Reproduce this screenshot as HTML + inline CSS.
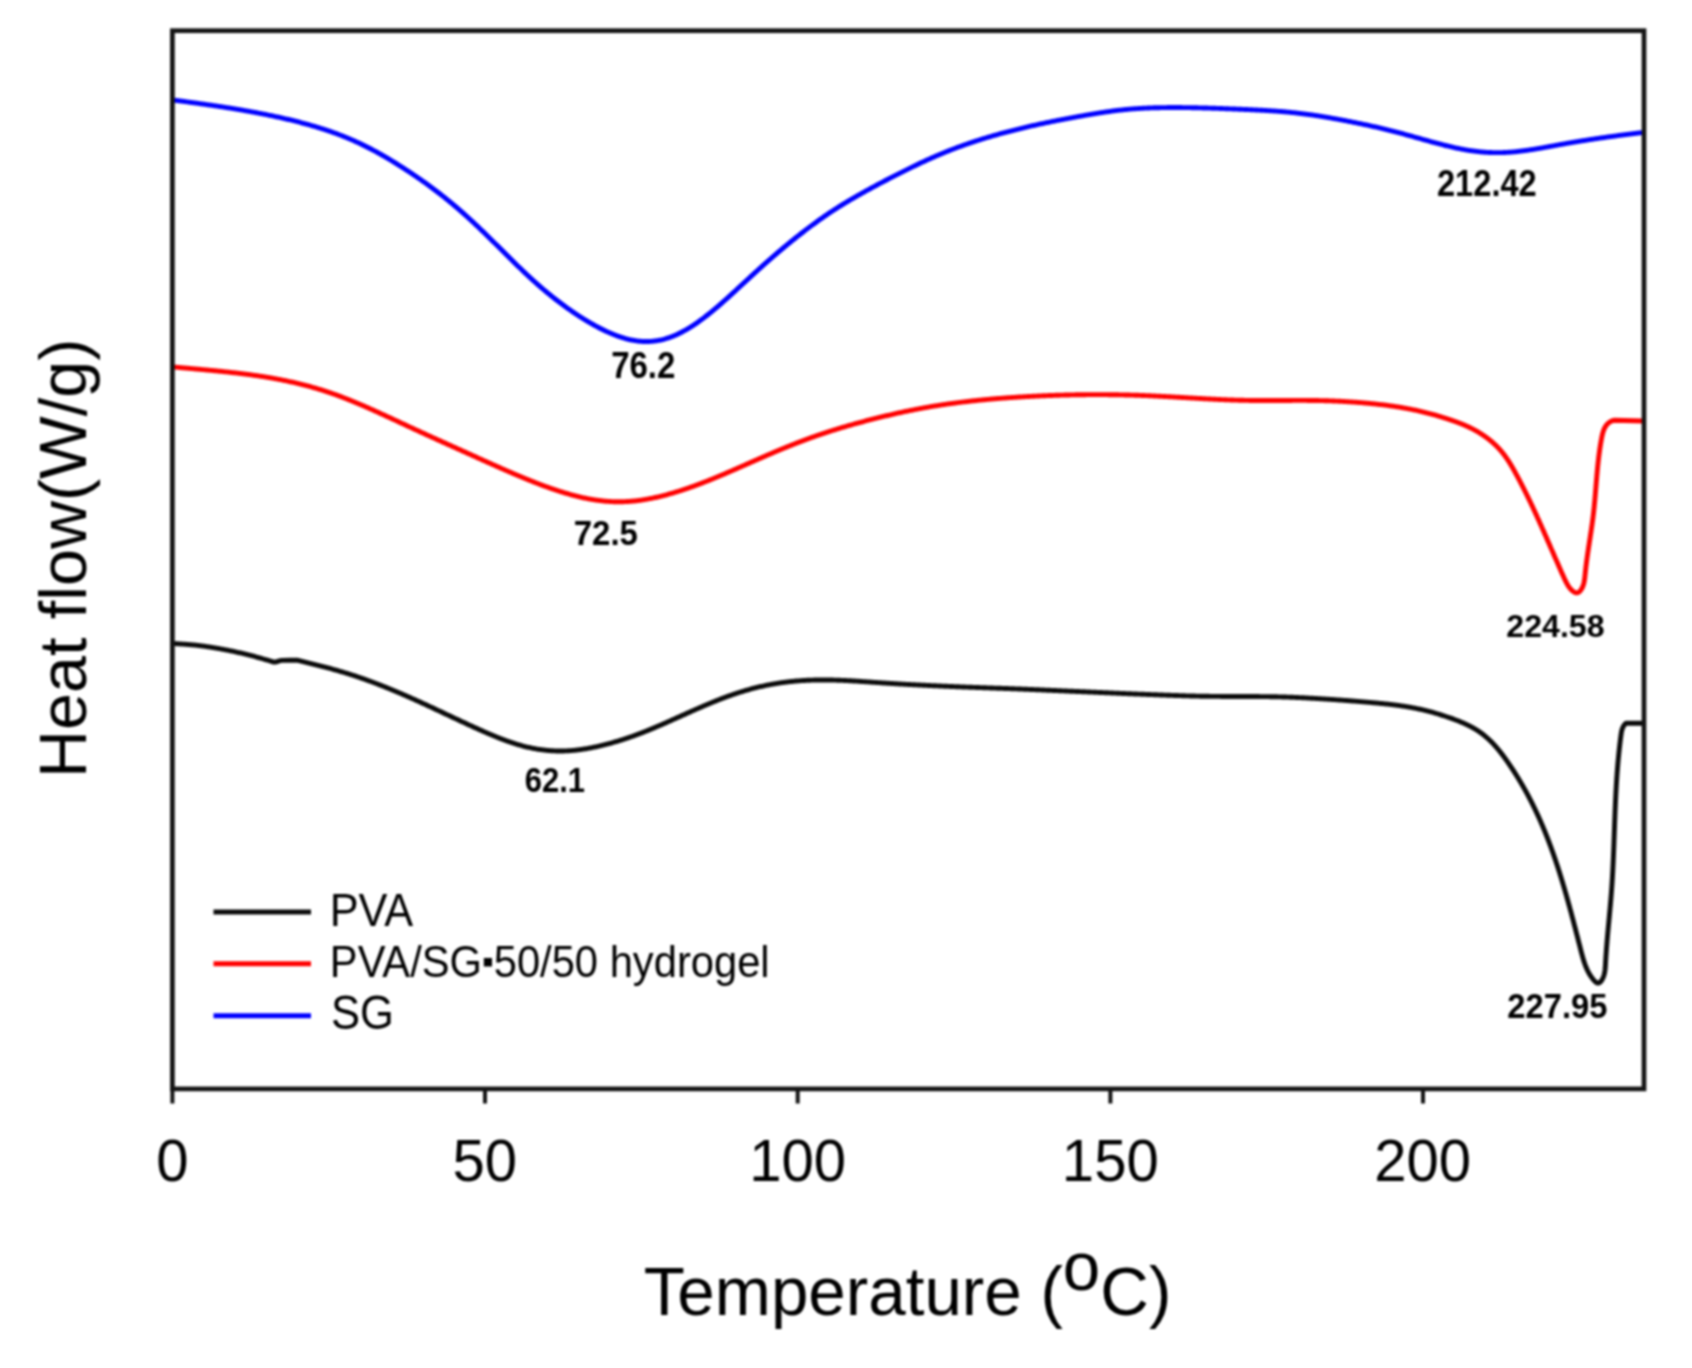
<!DOCTYPE html>
<html lang="en"><head><meta charset="utf-8"><title>DSC thermograms</title>
<style>
html,body{margin:0;padding:0;background:#fff;width:1692px;height:1368px;overflow:hidden}
svg{display:block;filter:blur(1px)}
</style></head><body>
<svg width="1692" height="1368" viewBox="0 0 1692 1368"><rect x="0" y="0" width="1692" height="1368" fill="#ffffff"/>
<g fill="none" stroke-linejoin="round" stroke-linecap="butt" stroke-width="4.9">
<path d="M171.50,99.82 L172.50,99.95 L173.50,100.09 L174.50,100.22 L175.50,100.35 L176.50,100.48 L177.50,100.61 L178.50,100.75 L179.50,100.88 L180.50,101.01 L181.50,101.14 L182.50,101.28 L183.50,101.41 L184.50,101.54 L185.50,101.67 L186.50,101.81 L187.50,101.94 L188.50,102.08 L189.50,102.21 L190.50,102.35 L191.50,102.48 L192.50,102.62 L193.50,102.75 L194.50,102.89 L195.50,103.02 L196.50,103.16 L197.50,103.30 L198.50,103.44 L199.50,103.57 L200.50,103.71 L201.50,103.85 L202.50,103.99 L203.50,104.13 L204.50,104.27 L205.50,104.42 L206.50,104.56 L207.50,104.70 L208.50,104.84 L209.50,104.99 L210.50,105.13 L211.50,105.28 L212.50,105.42 L213.50,105.57 L214.50,105.72 L215.50,105.87 L216.50,106.02 L217.50,106.17 L218.50,106.32 L219.50,106.47 L220.50,106.62 L221.50,106.77 L222.50,106.93 L223.50,107.08 L224.50,107.24 L225.50,107.39 L226.50,107.55 L227.50,107.71 L228.50,107.87 L229.50,108.03 L230.50,108.19 L231.50,108.35 L232.50,108.51 L233.50,108.68 L234.50,108.84 L235.50,109.01 L236.50,109.17 L237.50,109.34 L238.50,109.51 L239.50,109.68 L240.50,109.85 L241.50,110.02 L242.50,110.19 L243.50,110.36 L244.50,110.54 L245.50,110.71 L246.50,110.89 L247.50,111.07 L248.50,111.25 L249.50,111.43 L250.50,111.61 L251.50,111.79 L252.50,111.98 L253.50,112.16 L254.50,112.35 L255.50,112.53 L256.50,112.72 L257.50,112.91 L258.50,113.10 L259.50,113.29 L260.50,113.49 L261.50,113.68 L262.50,113.88 L263.50,114.08 L264.50,114.27 L265.50,114.47 L266.50,114.68 L267.50,114.88 L268.50,115.08 L269.50,115.29 L270.50,115.49 L271.50,115.70 L272.50,115.91 L273.50,116.13 L274.50,116.34 L275.50,116.55 L276.50,116.77 L277.50,116.99 L278.50,117.21 L279.50,117.43 L280.50,117.65 L281.50,117.88 L282.50,118.10 L283.50,118.33 L284.50,118.56 L285.50,118.79 L286.50,119.03 L287.50,119.26 L288.50,119.50 L289.50,119.74 L290.50,119.98 L291.50,120.22 L292.50,120.47 L293.50,120.72 L294.50,120.97 L295.50,121.22 L296.50,121.47 L297.50,121.73 L298.50,121.98 L299.50,122.24 L300.50,122.50 L301.50,122.77 L302.50,123.03 L303.50,123.30 L304.50,123.57 L305.50,123.85 L306.50,124.12 L307.50,124.40 L308.50,124.68 L309.50,124.96 L310.50,125.24 L311.50,125.53 L312.50,125.82 L313.50,126.11 L314.50,126.41 L315.50,126.70 L316.50,127.00 L317.50,127.31 L318.50,127.61 L319.50,127.92 L320.50,128.23 L321.50,128.55 L322.50,128.87 L323.50,129.19 L324.50,129.51 L325.50,129.84 L326.50,130.17 L327.50,130.50 L328.50,130.84 L329.50,131.18 L330.50,131.53 L331.50,131.87 L332.50,132.23 L333.50,132.58 L334.50,132.94 L335.50,133.30 L336.50,133.67 L337.50,134.04 L338.50,134.42 L339.50,134.80 L340.50,135.18 L341.50,135.57 L342.50,135.96 L343.50,136.36 L344.50,136.76 L345.50,137.17 L346.50,137.58 L347.50,137.99 L348.50,138.41 L349.50,138.83 L350.50,139.26 L351.50,139.69 L352.50,140.13 L353.50,140.57 L354.50,141.01 L355.50,141.46 L356.50,141.92 L357.50,142.38 L358.50,142.84 L359.50,143.31 L360.50,143.78 L361.50,144.25 L362.50,144.74 L363.50,145.22 L364.50,145.71 L365.50,146.21 L366.50,146.70 L367.50,147.21 L368.50,147.72 L369.50,148.23 L370.50,148.75 L371.50,149.27 L372.50,149.80 L373.50,150.33 L374.50,150.86 L375.50,151.41 L376.50,151.95 L377.50,152.50 L378.50,153.05 L379.50,153.61 L380.50,154.18 L381.50,154.74 L382.50,155.31 L383.50,155.89 L384.50,156.47 L385.50,157.05 L386.50,157.64 L387.50,158.23 L388.50,158.82 L389.50,159.42 L390.50,160.02 L391.50,160.63 L392.50,161.23 L393.50,161.85 L394.50,162.46 L395.50,163.08 L396.50,163.70 L397.50,164.33 L398.50,164.96 L399.50,165.59 L400.50,166.22 L401.50,166.86 L402.50,167.50 L403.50,168.14 L404.50,168.79 L405.50,169.44 L406.50,170.09 L407.50,170.75 L408.50,171.40 L409.50,172.06 L410.50,172.73 L411.50,173.39 L412.50,174.06 L413.50,174.73 L414.50,175.41 L415.50,176.09 L416.50,176.77 L417.50,177.46 L418.50,178.15 L419.50,178.84 L420.50,179.54 L421.50,180.24 L422.50,180.94 L423.50,181.65 L424.50,182.36 L425.50,183.07 L426.50,183.79 L427.50,184.51 L428.50,185.24 L429.50,185.97 L430.50,186.70 L431.50,187.44 L432.50,188.19 L433.50,188.93 L434.50,189.68 L435.50,190.44 L436.50,191.20 L437.50,191.97 L438.50,192.73 L439.50,193.51 L440.50,194.29 L441.50,195.07 L442.50,195.86 L443.50,196.65 L444.50,197.44 L445.50,198.24 L446.50,199.05 L447.50,199.86 L448.50,200.67 L449.50,201.49 L450.50,202.32 L451.50,203.14 L452.50,203.98 L453.50,204.81 L454.50,205.66 L455.50,206.50 L456.50,207.35 L457.50,208.21 L458.50,209.07 L459.50,209.94 L460.50,210.81 L461.50,211.68 L462.50,212.56 L463.50,213.45 L464.50,214.34 L465.50,215.23 L466.50,216.13 L467.50,217.03 L468.50,217.94 L469.50,218.86 L470.50,219.78 L471.50,220.70 L472.50,221.63 L473.50,222.56 L474.50,223.49 L475.50,224.43 L476.50,225.38 L477.50,226.33 L478.50,227.28 L479.50,228.23 L480.50,229.19 L481.50,230.15 L482.50,231.12 L483.50,232.08 L484.50,233.05 L485.50,234.03 L486.50,235.00 L487.50,235.98 L488.50,236.96 L489.50,237.94 L490.50,238.92 L491.50,239.91 L492.50,240.90 L493.50,241.89 L494.50,242.88 L495.50,243.87 L496.50,244.86 L497.50,245.85 L498.50,246.85 L499.50,247.84 L500.50,248.84 L501.50,249.83 L502.50,250.83 L503.50,251.82 L504.50,252.82 L505.50,253.82 L506.50,254.81 L507.50,255.81 L508.50,256.80 L509.50,257.79 L510.50,258.78 L511.50,259.77 L512.50,260.76 L513.50,261.74 L514.50,262.73 L515.50,263.71 L516.50,264.69 L517.50,265.66 L518.50,266.64 L519.50,267.61 L520.50,268.57 L521.50,269.54 L522.50,270.49 L523.50,271.45 L524.50,272.40 L525.50,273.35 L526.50,274.29 L527.50,275.23 L528.50,276.16 L529.50,277.09 L530.50,278.02 L531.50,278.93 L532.50,279.85 L533.50,280.75 L534.50,281.65 L535.50,282.55 L536.50,283.44 L537.50,284.32 L538.50,285.20 L539.50,286.07 L540.50,286.93 L541.50,287.79 L542.50,288.65 L543.50,289.50 L544.50,290.34 L545.50,291.18 L546.50,292.01 L547.50,292.83 L548.50,293.65 L549.50,294.47 L550.50,295.27 L551.50,296.08 L552.50,296.88 L553.50,297.67 L554.50,298.45 L555.50,299.23 L556.50,300.01 L557.50,300.78 L558.50,301.54 L559.50,302.30 L560.50,303.05 L561.50,303.80 L562.50,304.54 L563.50,305.28 L564.50,306.01 L565.50,306.74 L566.50,307.46 L567.50,308.17 L568.50,308.88 L569.50,309.59 L570.50,310.29 L571.50,310.98 L572.50,311.67 L573.50,312.35 L574.50,313.03 L575.50,313.70 L576.50,314.36 L577.50,315.02 L578.50,315.68 L579.50,316.32 L580.50,316.97 L581.50,317.60 L582.50,318.23 L583.50,318.86 L584.50,319.48 L585.50,320.09 L586.50,320.70 L587.50,321.30 L588.50,321.89 L589.50,322.48 L590.50,323.06 L591.50,323.63 L592.50,324.20 L593.50,324.76 L594.50,325.32 L595.50,325.86 L596.50,326.40 L597.50,326.94 L598.50,327.46 L599.50,327.98 L600.50,328.50 L601.50,329.00 L602.50,329.50 L603.50,329.99 L604.50,330.47 L605.50,330.94 L606.50,331.41 L607.50,331.87 L608.50,332.32 L609.50,332.76 L610.50,333.19 L611.50,333.61 L612.50,334.03 L613.50,334.43 L614.50,334.83 L615.50,335.22 L616.50,335.59 L617.50,335.96 L618.50,336.32 L619.50,336.67 L620.50,337.01 L621.50,337.33 L622.50,337.65 L623.50,337.96 L624.50,338.25 L625.50,338.53 L626.50,338.81 L627.50,339.07 L628.50,339.31 L629.50,339.55 L630.50,339.77 L631.50,339.98 L632.50,340.18 L633.50,340.37 L634.50,340.54 L635.50,340.70 L636.50,340.85 L637.50,340.98 L638.50,341.10 L639.50,341.21 L640.50,341.30 L641.50,341.38 L642.50,341.44 L643.50,341.49 L644.50,341.52 L645.50,341.54 L646.50,341.55 L647.50,341.54 L648.50,341.51 L649.50,341.47 L650.50,341.42 L651.50,341.35 L652.50,341.26 L653.50,341.16 L654.50,341.05 L655.50,340.92 L656.50,340.77 L657.50,340.61 L658.50,340.43 L659.50,340.24 L660.50,340.04 L661.50,339.81 L662.50,339.58 L663.50,339.32 L664.50,339.06 L665.50,338.77 L666.50,338.47 L667.50,338.16 L668.50,337.83 L669.50,337.49 L670.50,337.13 L671.50,336.76 L672.50,336.38 L673.50,335.97 L674.50,335.56 L675.50,335.13 L676.50,334.69 L677.50,334.23 L678.50,333.76 L679.50,333.28 L680.50,332.78 L681.50,332.27 L682.50,331.75 L683.50,331.21 L684.50,330.66 L685.50,330.10 L686.50,329.53 L687.50,328.94 L688.50,328.35 L689.50,327.74 L690.50,327.12 L691.50,326.48 L692.50,325.84 L693.50,325.19 L694.50,324.52 L695.50,323.85 L696.50,323.16 L697.50,322.46 L698.50,321.76 L699.50,321.04 L700.50,320.32 L701.50,319.59 L702.50,318.84 L703.50,318.09 L704.50,317.33 L705.50,316.56 L706.50,315.79 L707.50,315.00 L708.50,314.21 L709.50,313.41 L710.50,312.61 L711.50,311.79 L712.50,310.97 L713.50,310.14 L714.50,309.31 L715.50,308.47 L716.50,307.62 L717.50,306.77 L718.50,305.91 L719.50,305.05 L720.50,304.18 L721.50,303.31 L722.50,302.43 L723.50,301.54 L724.50,300.66 L725.50,299.77 L726.50,298.87 L727.50,297.97 L728.50,297.07 L729.50,296.16 L730.50,295.25 L731.50,294.34 L732.50,293.43 L733.50,292.51 L734.50,291.60 L735.50,290.68 L736.50,289.76 L737.50,288.83 L738.50,287.91 L739.50,286.99 L740.50,286.06 L741.50,285.14 L742.50,284.21 L743.50,283.29 L744.50,282.36 L745.50,281.44 L746.50,280.52 L747.50,279.60 L748.50,278.67 L749.50,277.75 L750.50,276.83 L751.50,275.92 L752.50,275.00 L753.50,274.08 L754.50,273.17 L755.50,272.26 L756.50,271.35 L757.50,270.44 L758.50,269.54 L759.50,268.63 L760.50,267.73 L761.50,266.83 L762.50,265.94 L763.50,265.04 L764.50,264.15 L765.50,263.26 L766.50,262.38 L767.50,261.49 L768.50,260.61 L769.50,259.73 L770.50,258.86 L771.50,257.99 L772.50,257.12 L773.50,256.25 L774.50,255.39 L775.50,254.53 L776.50,253.67 L777.50,252.82 L778.50,251.97 L779.50,251.12 L780.50,250.27 L781.50,249.43 L782.50,248.59 L783.50,247.75 L784.50,246.92 L785.50,246.09 L786.50,245.27 L787.50,244.44 L788.50,243.62 L789.50,242.80 L790.50,241.99 L791.50,241.18 L792.50,240.37 L793.50,239.57 L794.50,238.76 L795.50,237.97 L796.50,237.17 L797.50,236.38 L798.50,235.59 L799.50,234.80 L800.50,234.02 L801.50,233.24 L802.50,232.47 L803.50,231.70 L804.50,230.93 L805.50,230.16 L806.50,229.40 L807.50,228.64 L808.50,227.88 L809.50,227.13 L810.50,226.38 L811.50,225.64 L812.50,224.90 L813.50,224.16 L814.50,223.43 L815.50,222.70 L816.50,221.97 L817.50,221.25 L818.50,220.53 L819.50,219.82 L820.50,219.11 L821.50,218.40 L822.50,217.70 L823.50,217.00 L824.50,216.31 L825.50,215.62 L826.50,214.94 L827.50,214.26 L828.50,213.58 L829.50,212.91 L830.50,212.24 L831.50,211.58 L832.50,210.92 L833.50,210.27 L834.50,209.62 L835.50,208.97 L836.50,208.33 L837.50,207.70 L838.50,207.06 L839.50,206.43 L840.50,205.81 L841.50,205.19 L842.50,204.57 L843.50,203.96 L844.50,203.35 L845.50,202.74 L846.50,202.14 L847.50,201.54 L848.50,200.94 L849.50,200.35 L850.50,199.76 L851.50,199.18 L852.50,198.59 L853.50,198.01 L854.50,197.43 L855.50,196.86 L856.50,196.28 L857.50,195.71 L858.50,195.15 L859.50,194.58 L860.50,194.02 L861.50,193.46 L862.50,192.90 L863.50,192.34 L864.50,191.79 L865.50,191.23 L866.50,190.68 L867.50,190.13 L868.50,189.59 L869.50,189.04 L870.50,188.50 L871.50,187.95 L872.50,187.41 L873.50,186.87 L874.50,186.34 L875.50,185.80 L876.50,185.26 L877.50,184.73 L878.50,184.20 L879.50,183.67 L880.50,183.14 L881.50,182.61 L882.50,182.08 L883.50,181.56 L884.50,181.03 L885.50,180.51 L886.50,179.99 L887.50,179.47 L888.50,178.95 L889.50,178.43 L890.50,177.92 L891.50,177.40 L892.50,176.89 L893.50,176.38 L894.50,175.86 L895.50,175.36 L896.50,174.85 L897.50,174.34 L898.50,173.83 L899.50,173.33 L900.50,172.82 L901.50,172.32 L902.50,171.82 L903.50,171.32 L904.50,170.82 L905.50,170.33 L906.50,169.83 L907.50,169.34 L908.50,168.84 L909.50,168.35 L910.50,167.86 L911.50,167.37 L912.50,166.89 L913.50,166.40 L914.50,165.92 L915.50,165.44 L916.50,164.96 L917.50,164.48 L918.50,164.01 L919.50,163.53 L920.50,163.06 L921.50,162.59 L922.50,162.13 L923.50,161.66 L924.50,161.20 L925.50,160.74 L926.50,160.28 L927.50,159.83 L928.50,159.37 L929.50,158.92 L930.50,158.47 L931.50,158.03 L932.50,157.59 L933.50,157.15 L934.50,156.71 L935.50,156.27 L936.50,155.84 L937.50,155.41 L938.50,154.99 L939.50,154.56 L940.50,154.14 L941.50,153.72 L942.50,153.31 L943.50,152.89 L944.50,152.49 L945.50,152.08 L946.50,151.67 L947.50,151.27 L948.50,150.87 L949.50,150.48 L950.50,150.09 L951.50,149.70 L952.50,149.31 L953.50,148.93 L954.50,148.55 L955.50,148.17 L956.50,147.79 L957.50,147.42 L958.50,147.05 L959.50,146.68 L960.50,146.32 L961.50,145.96 L962.50,145.60 L963.50,145.24 L964.50,144.89 L965.50,144.54 L966.50,144.19 L967.50,143.84 L968.50,143.50 L969.50,143.16 L970.50,142.82 L971.50,142.49 L972.50,142.16 L973.50,141.82 L974.50,141.50 L975.50,141.17 L976.50,140.85 L977.50,140.53 L978.50,140.21 L979.50,139.89 L980.50,139.58 L981.50,139.26 L982.50,138.95 L983.50,138.64 L984.50,138.34 L985.50,138.03 L986.50,137.73 L987.50,137.43 L988.50,137.13 L989.50,136.84 L990.50,136.54 L991.50,136.25 L992.50,135.96 L993.50,135.67 L994.50,135.38 L995.50,135.10 L996.50,134.82 L997.50,134.53 L998.50,134.25 L999.50,133.98 L1000.50,133.70 L1001.50,133.43 L1002.50,133.15 L1003.50,132.88 L1004.50,132.61 L1005.50,132.34 L1006.50,132.08 L1007.50,131.81 L1008.50,131.55 L1009.50,131.29 L1010.50,131.03 L1011.50,130.77 L1012.50,130.52 L1013.50,130.26 L1014.50,130.01 L1015.50,129.76 L1016.50,129.51 L1017.50,129.26 L1018.50,129.02 L1019.50,128.77 L1020.50,128.53 L1021.50,128.29 L1022.50,128.05 L1023.50,127.81 L1024.50,127.57 L1025.50,127.34 L1026.50,127.10 L1027.50,126.87 L1028.50,126.64 L1029.50,126.41 L1030.50,126.18 L1031.50,125.96 L1032.50,125.73 L1033.50,125.51 L1034.50,125.28 L1035.50,125.06 L1036.50,124.84 L1037.50,124.62 L1038.50,124.40 L1039.50,124.19 L1040.50,123.97 L1041.50,123.76 L1042.50,123.54 L1043.50,123.33 L1044.50,123.12 L1045.50,122.91 L1046.50,122.70 L1047.50,122.49 L1048.50,122.29 L1049.50,122.08 L1050.50,121.88 L1051.50,121.67 L1052.50,121.47 L1053.50,121.27 L1054.50,121.07 L1055.50,120.87 L1056.50,120.67 L1057.50,120.47 L1058.50,120.28 L1059.50,120.08 L1060.50,119.88 L1061.50,119.69 L1062.50,119.50 L1063.50,119.30 L1064.50,119.11 L1065.50,118.92 L1066.50,118.73 L1067.50,118.54 L1068.50,118.35 L1069.50,118.16 L1070.50,117.98 L1071.50,117.79 L1072.50,117.61 L1073.50,117.42 L1074.50,117.24 L1075.50,117.05 L1076.50,116.87 L1077.50,116.69 L1078.50,116.51 L1079.50,116.33 L1080.50,116.15 L1081.50,115.97 L1082.50,115.79 L1083.50,115.61 L1084.50,115.44 L1085.50,115.26 L1086.50,115.09 L1087.50,114.91 L1088.50,114.74 L1089.50,114.57 L1090.50,114.40 L1091.50,114.23 L1092.50,114.06 L1093.50,113.89 L1094.50,113.73 L1095.50,113.57 L1096.50,113.40 L1097.50,113.24 L1098.50,113.08 L1099.50,112.93 L1100.50,112.77 L1101.50,112.61 L1102.50,112.46 L1103.50,112.31 L1104.50,112.16 L1105.50,112.01 L1106.50,111.87 L1107.50,111.73 L1108.50,111.59 L1109.50,111.45 L1110.50,111.31 L1111.50,111.17 L1112.50,111.04 L1113.50,110.91 L1114.50,110.78 L1115.50,110.66 L1116.50,110.54 L1117.50,110.42 L1118.50,110.30 L1119.50,110.18 L1120.50,110.07 L1121.50,109.96 L1122.50,109.86 L1123.50,109.75 L1124.50,109.65 L1125.50,109.55 L1126.50,109.45 L1127.50,109.36 L1128.50,109.27 L1129.50,109.18 L1130.50,109.09 L1131.50,109.01 L1132.50,108.93 L1133.50,108.85 L1134.50,108.78 L1135.50,108.71 L1136.50,108.64 L1137.50,108.57 L1138.50,108.51 L1139.50,108.44 L1140.50,108.38 L1141.50,108.33 L1142.50,108.27 L1143.50,108.22 L1144.50,108.17 L1145.50,108.12 L1146.50,108.08 L1147.50,108.04 L1148.50,108.00 L1149.50,107.96 L1150.50,107.92 L1151.50,107.89 L1152.50,107.85 L1153.50,107.82 L1154.50,107.79 L1155.50,107.77 L1156.50,107.74 L1157.50,107.72 L1158.50,107.70 L1159.50,107.68 L1160.50,107.66 L1161.50,107.64 L1162.50,107.63 L1163.50,107.61 L1164.50,107.60 L1165.50,107.59 L1166.50,107.58 L1167.50,107.57 L1168.50,107.56 L1169.50,107.56 L1170.50,107.55 L1171.50,107.55 L1172.50,107.55 L1173.50,107.54 L1174.50,107.54 L1175.50,107.54 L1176.50,107.55 L1177.50,107.55 L1178.50,107.55 L1179.50,107.56 L1180.50,107.56 L1181.50,107.57 L1182.50,107.58 L1183.50,107.59 L1184.50,107.60 L1185.50,107.61 L1186.50,107.62 L1187.50,107.63 L1188.50,107.64 L1189.50,107.66 L1190.50,107.67 L1191.50,107.69 L1192.50,107.71 L1193.50,107.73 L1194.50,107.75 L1195.50,107.76 L1196.50,107.79 L1197.50,107.81 L1198.50,107.83 L1199.50,107.85 L1200.50,107.88 L1201.50,107.90 L1202.50,107.93 L1203.50,107.95 L1204.50,107.98 L1205.50,108.01 L1206.50,108.03 L1207.50,108.06 L1208.50,108.09 L1209.50,108.12 L1210.50,108.15 L1211.50,108.19 L1212.50,108.22 L1213.50,108.25 L1214.50,108.28 L1215.50,108.32 L1216.50,108.35 L1217.50,108.39 L1218.50,108.42 L1219.50,108.46 L1220.50,108.49 L1221.50,108.53 L1222.50,108.57 L1223.50,108.60 L1224.50,108.64 L1225.50,108.68 L1226.50,108.72 L1227.50,108.76 L1228.50,108.79 L1229.50,108.83 L1230.50,108.87 L1231.50,108.91 L1232.50,108.95 L1233.50,108.99 L1234.50,109.03 L1235.50,109.07 L1236.50,109.11 L1237.50,109.15 L1238.50,109.19 L1239.50,109.23 L1240.50,109.27 L1241.50,109.31 L1242.50,109.35 L1243.50,109.40 L1244.50,109.44 L1245.50,109.48 L1246.50,109.53 L1247.50,109.57 L1248.50,109.61 L1249.50,109.66 L1250.50,109.70 L1251.50,109.75 L1252.50,109.80 L1253.50,109.84 L1254.50,109.89 L1255.50,109.94 L1256.50,109.99 L1257.50,110.04 L1258.50,110.09 L1259.50,110.14 L1260.50,110.19 L1261.50,110.25 L1262.50,110.30 L1263.50,110.36 L1264.50,110.41 L1265.50,110.47 L1266.50,110.53 L1267.50,110.59 L1268.50,110.65 L1269.50,110.71 L1270.50,110.77 L1271.50,110.83 L1272.50,110.90 L1273.50,110.97 L1274.50,111.04 L1275.50,111.11 L1276.50,111.18 L1277.50,111.25 L1278.50,111.33 L1279.50,111.40 L1280.50,111.48 L1281.50,111.56 L1282.50,111.64 L1283.50,111.73 L1284.50,111.81 L1285.50,111.90 L1286.50,111.99 L1287.50,112.08 L1288.50,112.17 L1289.50,112.27 L1290.50,112.37 L1291.50,112.47 L1292.50,112.57 L1293.50,112.67 L1294.50,112.78 L1295.50,112.89 L1296.50,113.00 L1297.50,113.11 L1298.50,113.22 L1299.50,113.34 L1300.50,113.46 L1301.50,113.58 L1302.50,113.70 L1303.50,113.82 L1304.50,113.95 L1305.50,114.08 L1306.50,114.21 L1307.50,114.35 L1308.50,114.48 L1309.50,114.62 L1310.50,114.76 L1311.50,114.90 L1312.50,115.04 L1313.50,115.19 L1314.50,115.34 L1315.50,115.49 L1316.50,115.64 L1317.50,115.79 L1318.50,115.95 L1319.50,116.11 L1320.50,116.26 L1321.50,116.43 L1322.50,116.59 L1323.50,116.75 L1324.50,116.92 L1325.50,117.09 L1326.50,117.25 L1327.50,117.43 L1328.50,117.60 L1329.50,117.77 L1330.50,117.95 L1331.50,118.12 L1332.50,118.30 L1333.50,118.48 L1334.50,118.66 L1335.50,118.84 L1336.50,119.02 L1337.50,119.21 L1338.50,119.39 L1339.50,119.58 L1340.50,119.76 L1341.50,119.95 L1342.50,120.14 L1343.50,120.33 L1344.50,120.52 L1345.50,120.71 L1346.50,120.91 L1347.50,121.10 L1348.50,121.29 L1349.50,121.49 L1350.50,121.69 L1351.50,121.88 L1352.50,122.08 L1353.50,122.28 L1354.50,122.48 L1355.50,122.69 L1356.50,122.89 L1357.50,123.09 L1358.50,123.30 L1359.50,123.50 L1360.50,123.71 L1361.50,123.92 L1362.50,124.13 L1363.50,124.34 L1364.50,124.55 L1365.50,124.76 L1366.50,124.98 L1367.50,125.19 L1368.50,125.41 L1369.50,125.63 L1370.50,125.85 L1371.50,126.07 L1372.50,126.29 L1373.50,126.52 L1374.50,126.74 L1375.50,126.97 L1376.50,127.20 L1377.50,127.43 L1378.50,127.66 L1379.50,127.89 L1380.50,128.13 L1381.50,128.36 L1382.50,128.60 L1383.50,128.84 L1384.50,129.08 L1385.50,129.33 L1386.50,129.57 L1387.50,129.82 L1388.50,130.07 L1389.50,130.32 L1390.50,130.57 L1391.50,130.82 L1392.50,131.08 L1393.50,131.33 L1394.50,131.59 L1395.50,131.85 L1396.50,132.11 L1397.50,132.37 L1398.50,132.64 L1399.50,132.90 L1400.50,133.17 L1401.50,133.44 L1402.50,133.71 L1403.50,133.98 L1404.50,134.25 L1405.50,134.52 L1406.50,134.80 L1407.50,135.07 L1408.50,135.35 L1409.50,135.62 L1410.50,135.90 L1411.50,136.18 L1412.50,136.46 L1413.50,136.74 L1414.50,137.02 L1415.50,137.30 L1416.50,137.58 L1417.50,137.87 L1418.50,138.15 L1419.50,138.43 L1420.50,138.71 L1421.50,139.00 L1422.50,139.28 L1423.50,139.56 L1424.50,139.84 L1425.50,140.13 L1426.50,140.41 L1427.50,140.69 L1428.50,140.97 L1429.50,141.25 L1430.50,141.52 L1431.50,141.80 L1432.50,142.08 L1433.50,142.35 L1434.50,142.62 L1435.50,142.89 L1436.50,143.16 L1437.50,143.43 L1438.50,143.70 L1439.50,143.96 L1440.50,144.22 L1441.50,144.48 L1442.50,144.74 L1443.50,145.00 L1444.50,145.25 L1445.50,145.50 L1446.50,145.75 L1447.50,145.99 L1448.50,146.23 L1449.50,146.47 L1450.50,146.71 L1451.50,146.94 L1452.50,147.17 L1453.50,147.39 L1454.50,147.62 L1455.50,147.83 L1456.50,148.05 L1457.50,148.26 L1458.50,148.47 L1459.50,148.67 L1460.50,148.87 L1461.50,149.06 L1462.50,149.25 L1463.50,149.44 L1464.50,149.62 L1465.50,149.80 L1466.50,149.97 L1467.50,150.14 L1468.50,150.30 L1469.50,150.46 L1470.50,150.61 L1471.50,150.76 L1472.50,150.90 L1473.50,151.04 L1474.50,151.17 L1475.50,151.30 L1476.50,151.42 L1477.50,151.54 L1478.50,151.65 L1479.50,151.75 L1480.50,151.85 L1481.50,151.95 L1482.50,152.03 L1483.50,152.12 L1484.50,152.19 L1485.50,152.27 L1486.50,152.33 L1487.50,152.39 L1488.50,152.45 L1489.50,152.49 L1490.50,152.54 L1491.50,152.57 L1492.50,152.60 L1493.50,152.63 L1494.50,152.65 L1495.50,152.66 L1496.50,152.66 L1497.50,152.67 L1498.50,152.66 L1499.50,152.65 L1500.50,152.63 L1501.50,152.61 L1502.50,152.58 L1503.50,152.55 L1504.50,152.51 L1505.50,152.46 L1506.50,152.41 L1507.50,152.36 L1508.50,152.29 L1509.50,152.23 L1510.50,152.15 L1511.50,152.08 L1512.50,151.99 L1513.50,151.91 L1514.50,151.82 L1515.50,151.72 L1516.50,151.62 L1517.50,151.51 L1518.50,151.40 L1519.50,151.29 L1520.50,151.17 L1521.50,151.05 L1522.50,150.92 L1523.50,150.79 L1524.50,150.66 L1525.50,150.52 L1526.50,150.38 L1527.50,150.23 L1528.50,150.09 L1529.50,149.94 L1530.50,149.79 L1531.50,149.63 L1532.50,149.47 L1533.50,149.31 L1534.50,149.15 L1535.50,148.99 L1536.50,148.82 L1537.50,148.65 L1538.50,148.48 L1539.50,148.31 L1540.50,148.14 L1541.50,147.97 L1542.50,147.79 L1543.50,147.61 L1544.50,147.44 L1545.50,147.26 L1546.50,147.08 L1547.50,146.90 L1548.50,146.72 L1549.50,146.53 L1550.50,146.35 L1551.50,146.17 L1552.50,145.99 L1553.50,145.81 L1554.50,145.62 L1555.50,145.44 L1556.50,145.26 L1557.50,145.08 L1558.50,144.90 L1559.50,144.71 L1560.50,144.53 L1561.50,144.35 L1562.50,144.17 L1563.50,143.99 L1564.50,143.82 L1565.50,143.64 L1566.50,143.46 L1567.50,143.29 L1568.50,143.11 L1569.50,142.94 L1570.50,142.77 L1571.50,142.59 L1572.50,142.42 L1573.50,142.25 L1574.50,142.09 L1575.50,141.92 L1576.50,141.75 L1577.50,141.59 L1578.50,141.42 L1579.50,141.26 L1580.50,141.10 L1581.50,140.94 L1582.50,140.78 L1583.50,140.62 L1584.50,140.46 L1585.50,140.30 L1586.50,140.14 L1587.50,139.99 L1588.50,139.83 L1589.50,139.68 L1590.50,139.53 L1591.50,139.38 L1592.50,139.22 L1593.50,139.07 L1594.50,138.92 L1595.50,138.78 L1596.50,138.63 L1597.50,138.48 L1598.50,138.33 L1599.50,138.19 L1600.50,138.04 L1601.50,137.90 L1602.50,137.75 L1603.50,137.61 L1604.50,137.47 L1605.50,137.33 L1606.50,137.19 L1607.50,137.05 L1608.50,136.91 L1609.50,136.77 L1610.50,136.63 L1611.50,136.49 L1612.50,136.35 L1613.50,136.22 L1614.50,136.08 L1615.50,135.95 L1616.50,135.81 L1617.50,135.68 L1618.50,135.55 L1619.50,135.41 L1620.50,135.28 L1621.50,135.15 L1622.50,135.02 L1623.50,134.89 L1624.50,134.76 L1625.50,134.63 L1626.50,134.50 L1627.50,134.37 L1628.50,134.24 L1629.50,134.12 L1630.50,133.99 L1631.50,133.86 L1632.50,133.74 L1633.50,133.61 L1634.50,133.48 L1635.50,133.36 L1636.50,133.23 L1637.50,133.11 L1638.50,132.98 L1639.50,132.85 L1640.50,132.73 L1641.50,132.60 L1642.00,132.54" stroke="#0000ff"/>
<path d="M171.50,366.82 L172.50,366.91 L173.50,366.99 L174.50,367.08 L175.50,367.17 L176.50,367.26 L177.50,367.34 L178.50,367.43 L179.50,367.52 L180.50,367.61 L181.50,367.70 L182.50,367.78 L183.50,367.87 L184.50,367.96 L185.50,368.05 L186.50,368.14 L187.50,368.23 L188.50,368.31 L189.50,368.40 L190.50,368.49 L191.50,368.58 L192.50,368.67 L193.50,368.76 L194.50,368.85 L195.50,368.94 L196.50,369.03 L197.50,369.12 L198.50,369.21 L199.50,369.30 L200.50,369.40 L201.50,369.49 L202.50,369.58 L203.50,369.67 L204.50,369.76 L205.50,369.86 L206.50,369.95 L207.50,370.05 L208.50,370.14 L209.50,370.23 L210.50,370.33 L211.50,370.43 L212.50,370.52 L213.50,370.62 L214.50,370.72 L215.50,370.81 L216.50,370.91 L217.50,371.01 L218.50,371.11 L219.50,371.21 L220.50,371.31 L221.50,371.41 L222.50,371.52 L223.50,371.62 L224.50,371.72 L225.50,371.83 L226.50,371.93 L227.50,372.04 L228.50,372.15 L229.50,372.25 L230.50,372.36 L231.50,372.47 L232.50,372.58 L233.50,372.70 L234.50,372.81 L235.50,372.92 L236.50,373.04 L237.50,373.16 L238.50,373.27 L239.50,373.39 L240.50,373.51 L241.50,373.63 L242.50,373.76 L243.50,373.88 L244.50,374.01 L245.50,374.13 L246.50,374.26 L247.50,374.39 L248.50,374.52 L249.50,374.66 L250.50,374.79 L251.50,374.93 L252.50,375.06 L253.50,375.20 L254.50,375.35 L255.50,375.49 L256.50,375.63 L257.50,375.78 L258.50,375.93 L259.50,376.08 L260.50,376.23 L261.50,376.39 L262.50,376.54 L263.50,376.70 L264.50,376.86 L265.50,377.02 L266.50,377.18 L267.50,377.35 L268.50,377.52 L269.50,377.69 L270.50,377.86 L271.50,378.03 L272.50,378.21 L273.50,378.39 L274.50,378.57 L275.50,378.75 L276.50,378.94 L277.50,379.12 L278.50,379.31 L279.50,379.50 L280.50,379.70 L281.50,379.89 L282.50,380.09 L283.50,380.29 L284.50,380.50 L285.50,380.70 L286.50,380.91 L287.50,381.12 L288.50,381.33 L289.50,381.55 L290.50,381.77 L291.50,381.99 L292.50,382.21 L293.50,382.44 L294.50,382.67 L295.50,382.90 L296.50,383.13 L297.50,383.37 L298.50,383.61 L299.50,383.85 L300.50,384.10 L301.50,384.35 L302.50,384.60 L303.50,384.85 L304.50,385.11 L305.50,385.37 L306.50,385.63 L307.50,385.90 L308.50,386.17 L309.50,386.44 L310.50,386.72 L311.50,387.00 L312.50,387.28 L313.50,387.56 L314.50,387.85 L315.50,388.14 L316.50,388.44 L317.50,388.74 L318.50,389.04 L319.50,389.34 L320.50,389.65 L321.50,389.96 L322.50,390.28 L323.50,390.59 L324.50,390.91 L325.50,391.24 L326.50,391.57 L327.50,391.90 L328.50,392.23 L329.50,392.57 L330.50,392.91 L331.50,393.26 L332.50,393.61 L333.50,393.96 L334.50,394.31 L335.50,394.67 L336.50,395.03 L337.50,395.40 L338.50,395.77 L339.50,396.14 L340.50,396.51 L341.50,396.89 L342.50,397.27 L343.50,397.66 L344.50,398.04 L345.50,398.43 L346.50,398.82 L347.50,399.22 L348.50,399.62 L349.50,400.02 L350.50,400.42 L351.50,400.83 L352.50,401.23 L353.50,401.65 L354.50,402.06 L355.50,402.47 L356.50,402.89 L357.50,403.31 L358.50,403.73 L359.50,404.16 L360.50,404.58 L361.50,405.01 L362.50,405.44 L363.50,405.87 L364.50,406.30 L365.50,406.74 L366.50,407.17 L367.50,407.61 L368.50,408.05 L369.50,408.49 L370.50,408.94 L371.50,409.38 L372.50,409.83 L373.50,410.28 L374.50,410.72 L375.50,411.17 L376.50,411.63 L377.50,412.08 L378.50,412.53 L379.50,412.99 L380.50,413.44 L381.50,413.90 L382.50,414.36 L383.50,414.81 L384.50,415.27 L385.50,415.73 L386.50,416.19 L387.50,416.65 L388.50,417.12 L389.50,417.58 L390.50,418.04 L391.50,418.51 L392.50,418.97 L393.50,419.43 L394.50,419.90 L395.50,420.36 L396.50,420.83 L397.50,421.29 L398.50,421.76 L399.50,422.23 L400.50,422.69 L401.50,423.16 L402.50,423.62 L403.50,424.09 L404.50,424.55 L405.50,425.02 L406.50,425.49 L407.50,425.95 L408.50,426.42 L409.50,426.88 L410.50,427.35 L411.50,427.81 L412.50,428.27 L413.50,428.74 L414.50,429.20 L415.50,429.66 L416.50,430.12 L417.50,430.58 L418.50,431.05 L419.50,431.50 L420.50,431.96 L421.50,432.42 L422.50,432.88 L423.50,433.34 L424.50,433.79 L425.50,434.25 L426.50,434.71 L427.50,435.16 L428.50,435.62 L429.50,436.07 L430.50,436.53 L431.50,436.98 L432.50,437.43 L433.50,437.89 L434.50,438.34 L435.50,438.79 L436.50,439.24 L437.50,439.69 L438.50,440.15 L439.50,440.60 L440.50,441.05 L441.50,441.50 L442.50,441.95 L443.50,442.40 L444.50,442.85 L445.50,443.30 L446.50,443.75 L447.50,444.20 L448.50,444.65 L449.50,445.10 L450.50,445.55 L451.50,446.00 L452.50,446.45 L453.50,446.90 L454.50,447.35 L455.50,447.80 L456.50,448.25 L457.50,448.70 L458.50,449.15 L459.50,449.60 L460.50,450.05 L461.50,450.50 L462.50,450.95 L463.50,451.40 L464.50,451.85 L465.50,452.30 L466.50,452.75 L467.50,453.20 L468.50,453.65 L469.50,454.10 L470.50,454.55 L471.50,455.00 L472.50,455.45 L473.50,455.90 L474.50,456.35 L475.50,456.80 L476.50,457.25 L477.50,457.70 L478.50,458.15 L479.50,458.61 L480.50,459.06 L481.50,459.51 L482.50,459.96 L483.50,460.41 L484.50,460.86 L485.50,461.31 L486.50,461.76 L487.50,462.21 L488.50,462.65 L489.50,463.10 L490.50,463.55 L491.50,464.00 L492.50,464.44 L493.50,464.89 L494.50,465.34 L495.50,465.78 L496.50,466.23 L497.50,466.67 L498.50,467.11 L499.50,467.55 L500.50,468.00 L501.50,468.44 L502.50,468.88 L503.50,469.32 L504.50,469.75 L505.50,470.19 L506.50,470.63 L507.50,471.06 L508.50,471.50 L509.50,471.93 L510.50,472.36 L511.50,472.79 L512.50,473.22 L513.50,473.65 L514.50,474.07 L515.50,474.50 L516.50,474.92 L517.50,475.35 L518.50,475.77 L519.50,476.19 L520.50,476.61 L521.50,477.02 L522.50,477.44 L523.50,477.85 L524.50,478.26 L525.50,478.67 L526.50,479.08 L527.50,479.49 L528.50,479.89 L529.50,480.29 L530.50,480.70 L531.50,481.09 L532.50,481.49 L533.50,481.89 L534.50,482.28 L535.50,482.67 L536.50,483.06 L537.50,483.44 L538.50,483.83 L539.50,484.21 L540.50,484.59 L541.50,484.96 L542.50,485.33 L543.50,485.71 L544.50,486.07 L545.50,486.44 L546.50,486.80 L547.50,487.16 L548.50,487.52 L549.50,487.87 L550.50,488.23 L551.50,488.57 L552.50,488.92 L553.50,489.26 L554.50,489.60 L555.50,489.94 L556.50,490.27 L557.50,490.60 L558.50,490.93 L559.50,491.25 L560.50,491.57 L561.50,491.88 L562.50,492.19 L563.50,492.50 L564.50,492.81 L565.50,493.11 L566.50,493.40 L567.50,493.70 L568.50,493.98 L569.50,494.27 L570.50,494.55 L571.50,494.82 L572.50,495.10 L573.50,495.36 L574.50,495.63 L575.50,495.88 L576.50,496.14 L577.50,496.39 L578.50,496.63 L579.50,496.87 L580.50,497.10 L581.50,497.33 L582.50,497.56 L583.50,497.78 L584.50,497.99 L585.50,498.20 L586.50,498.41 L587.50,498.61 L588.50,498.80 L589.50,498.99 L590.50,499.17 L591.50,499.35 L592.50,499.52 L593.50,499.68 L594.50,499.84 L595.50,499.99 L596.50,500.14 L597.50,500.28 L598.50,500.42 L599.50,500.55 L600.50,500.67 L601.50,500.79 L602.50,500.90 L603.50,501.00 L604.50,501.10 L605.50,501.19 L606.50,501.28 L607.50,501.36 L608.50,501.43 L609.50,501.49 L610.50,501.55 L611.50,501.61 L612.50,501.65 L613.50,501.69 L614.50,501.72 L615.50,501.75 L616.50,501.76 L617.50,501.78 L618.50,501.78 L619.50,501.78 L620.50,501.77 L621.50,501.75 L622.50,501.73 L623.50,501.70 L624.50,501.67 L625.50,501.62 L626.50,501.57 L627.50,501.52 L628.50,501.45 L629.50,501.38 L630.50,501.31 L631.50,501.23 L632.50,501.14 L633.50,501.04 L634.50,500.94 L635.50,500.83 L636.50,500.72 L637.50,500.60 L638.50,500.47 L639.50,500.34 L640.50,500.20 L641.50,500.06 L642.50,499.91 L643.50,499.75 L644.50,499.59 L645.50,499.43 L646.50,499.26 L647.50,499.08 L648.50,498.90 L649.50,498.71 L650.50,498.52 L651.50,498.32 L652.50,498.11 L653.50,497.91 L654.50,497.69 L655.50,497.48 L656.50,497.25 L657.50,497.03 L658.50,496.79 L659.50,496.56 L660.50,496.32 L661.50,496.07 L662.50,495.82 L663.50,495.57 L664.50,495.31 L665.50,495.05 L666.50,494.78 L667.50,494.51 L668.50,494.23 L669.50,493.95 L670.50,493.67 L671.50,493.39 L672.50,493.10 L673.50,492.80 L674.50,492.50 L675.50,492.20 L676.50,491.90 L677.50,491.59 L678.50,491.28 L679.50,490.96 L680.50,490.64 L681.50,490.32 L682.50,489.99 L683.50,489.67 L684.50,489.33 L685.50,489.00 L686.50,488.66 L687.50,488.32 L688.50,487.97 L689.50,487.63 L690.50,487.28 L691.50,486.92 L692.50,486.57 L693.50,486.21 L694.50,485.85 L695.50,485.48 L696.50,485.11 L697.50,484.74 L698.50,484.37 L699.50,484.00 L700.50,483.62 L701.50,483.24 L702.50,482.85 L703.50,482.47 L704.50,482.08 L705.50,481.69 L706.50,481.30 L707.50,480.90 L708.50,480.51 L709.50,480.11 L710.50,479.71 L711.50,479.30 L712.50,478.90 L713.50,478.49 L714.50,478.08 L715.50,477.67 L716.50,477.26 L717.50,476.84 L718.50,476.43 L719.50,476.01 L720.50,475.59 L721.50,475.17 L722.50,474.74 L723.50,474.32 L724.50,473.89 L725.50,473.47 L726.50,473.04 L727.50,472.61 L728.50,472.18 L729.50,471.75 L730.50,471.32 L731.50,470.88 L732.50,470.45 L733.50,470.01 L734.50,469.57 L735.50,469.14 L736.50,468.70 L737.50,468.26 L738.50,467.82 L739.50,467.38 L740.50,466.94 L741.50,466.50 L742.50,466.06 L743.50,465.62 L744.50,465.18 L745.50,464.74 L746.50,464.30 L747.50,463.86 L748.50,463.42 L749.50,462.98 L750.50,462.53 L751.50,462.09 L752.50,461.65 L753.50,461.21 L754.50,460.77 L755.50,460.33 L756.50,459.89 L757.50,459.46 L758.50,459.02 L759.50,458.58 L760.50,458.14 L761.50,457.71 L762.50,457.27 L763.50,456.84 L764.50,456.40 L765.50,455.97 L766.50,455.54 L767.50,455.10 L768.50,454.67 L769.50,454.24 L770.50,453.81 L771.50,453.39 L772.50,452.96 L773.50,452.54 L774.50,452.11 L775.50,451.69 L776.50,451.27 L777.50,450.84 L778.50,450.43 L779.50,450.01 L780.50,449.59 L781.50,449.18 L782.50,448.76 L783.50,448.35 L784.50,447.94 L785.50,447.53 L786.50,447.12 L787.50,446.72 L788.50,446.31 L789.50,445.91 L790.50,445.51 L791.50,445.11 L792.50,444.71 L793.50,444.32 L794.50,443.93 L795.50,443.53 L796.50,443.14 L797.50,442.76 L798.50,442.37 L799.50,441.99 L800.50,441.61 L801.50,441.23 L802.50,440.85 L803.50,440.47 L804.50,440.10 L805.50,439.73 L806.50,439.36 L807.50,438.99 L808.50,438.63 L809.50,438.26 L810.50,437.90 L811.50,437.54 L812.50,437.18 L813.50,436.83 L814.50,436.48 L815.50,436.13 L816.50,435.78 L817.50,435.43 L818.50,435.09 L819.50,434.74 L820.50,434.40 L821.50,434.06 L822.50,433.73 L823.50,433.39 L824.50,433.06 L825.50,432.73 L826.50,432.40 L827.50,432.08 L828.50,431.75 L829.50,431.43 L830.50,431.11 L831.50,430.79 L832.50,430.48 L833.50,430.16 L834.50,429.85 L835.50,429.54 L836.50,429.23 L837.50,428.92 L838.50,428.62 L839.50,428.31 L840.50,428.01 L841.50,427.71 L842.50,427.42 L843.50,427.12 L844.50,426.82 L845.50,426.53 L846.50,426.24 L847.50,425.95 L848.50,425.66 L849.50,425.37 L850.50,425.09 L851.50,424.81 L852.50,424.52 L853.50,424.24 L854.50,423.96 L855.50,423.69 L856.50,423.41 L857.50,423.14 L858.50,422.86 L859.50,422.59 L860.50,422.32 L861.50,422.05 L862.50,421.78 L863.50,421.52 L864.50,421.25 L865.50,420.99 L866.50,420.72 L867.50,420.46 L868.50,420.20 L869.50,419.94 L870.50,419.69 L871.50,419.43 L872.50,419.17 L873.50,418.92 L874.50,418.67 L875.50,418.42 L876.50,418.17 L877.50,417.92 L878.50,417.67 L879.50,417.42 L880.50,417.18 L881.50,416.94 L882.50,416.69 L883.50,416.45 L884.50,416.21 L885.50,415.97 L886.50,415.74 L887.50,415.50 L888.50,415.26 L889.50,415.03 L890.50,414.80 L891.50,414.57 L892.50,414.34 L893.50,414.11 L894.50,413.88 L895.50,413.65 L896.50,413.43 L897.50,413.21 L898.50,412.98 L899.50,412.76 L900.50,412.54 L901.50,412.33 L902.50,412.11 L903.50,411.90 L904.50,411.68 L905.50,411.47 L906.50,411.26 L907.50,411.05 L908.50,410.85 L909.50,410.64 L910.50,410.44 L911.50,410.23 L912.50,410.03 L913.50,409.83 L914.50,409.64 L915.50,409.44 L916.50,409.25 L917.50,409.05 L918.50,408.86 L919.50,408.67 L920.50,408.49 L921.50,408.30 L922.50,408.12 L923.50,407.93 L924.50,407.75 L925.50,407.57 L926.50,407.40 L927.50,407.22 L928.50,407.05 L929.50,406.87 L930.50,406.70 L931.50,406.53 L932.50,406.36 L933.50,406.20 L934.50,406.03 L935.50,405.87 L936.50,405.71 L937.50,405.55 L938.50,405.39 L939.50,405.24 L940.50,405.08 L941.50,404.93 L942.50,404.78 L943.50,404.63 L944.50,404.48 L945.50,404.33 L946.50,404.19 L947.50,404.04 L948.50,403.90 L949.50,403.76 L950.50,403.62 L951.50,403.48 L952.50,403.35 L953.50,403.21 L954.50,403.08 L955.50,402.95 L956.50,402.82 L957.50,402.69 L958.50,402.56 L959.50,402.43 L960.50,402.31 L961.50,402.18 L962.50,402.06 L963.50,401.94 L964.50,401.82 L965.50,401.70 L966.50,401.59 L967.50,401.47 L968.50,401.36 L969.50,401.25 L970.50,401.13 L971.50,401.02 L972.50,400.91 L973.50,400.81 L974.50,400.70 L975.50,400.59 L976.50,400.49 L977.50,400.39 L978.50,400.28 L979.50,400.18 L980.50,400.08 L981.50,399.99 L982.50,399.89 L983.50,399.79 L984.50,399.70 L985.50,399.60 L986.50,399.51 L987.50,399.42 L988.50,399.33 L989.50,399.24 L990.50,399.15 L991.50,399.06 L992.50,398.98 L993.50,398.89 L994.50,398.81 L995.50,398.72 L996.50,398.64 L997.50,398.56 L998.50,398.48 L999.50,398.40 L1000.50,398.32 L1001.50,398.24 L1002.50,398.17 L1003.50,398.09 L1004.50,398.02 L1005.50,397.94 L1006.50,397.87 L1007.50,397.80 L1008.50,397.73 L1009.50,397.66 L1010.50,397.59 L1011.50,397.52 L1012.50,397.45 L1013.50,397.39 L1014.50,397.32 L1015.50,397.25 L1016.50,397.19 L1017.50,397.13 L1018.50,397.07 L1019.50,397.00 L1020.50,396.94 L1021.50,396.88 L1022.50,396.83 L1023.50,396.77 L1024.50,396.71 L1025.50,396.65 L1026.50,396.60 L1027.50,396.54 L1028.50,396.49 L1029.50,396.44 L1030.50,396.38 L1031.50,396.33 L1032.50,396.28 L1033.50,396.23 L1034.50,396.18 L1035.50,396.13 L1036.50,396.09 L1037.50,396.04 L1038.50,395.99 L1039.50,395.95 L1040.50,395.90 L1041.50,395.86 L1042.50,395.82 L1043.50,395.77 L1044.50,395.73 L1045.50,395.69 L1046.50,395.65 L1047.50,395.61 L1048.50,395.57 L1049.50,395.54 L1050.50,395.50 L1051.50,395.46 L1052.50,395.43 L1053.50,395.39 L1054.50,395.36 L1055.50,395.32 L1056.50,395.29 L1057.50,395.26 L1058.50,395.23 L1059.50,395.20 L1060.50,395.17 L1061.50,395.14 L1062.50,395.11 L1063.50,395.08 L1064.50,395.05 L1065.50,395.03 L1066.50,395.00 L1067.50,394.98 L1068.50,394.95 L1069.50,394.93 L1070.50,394.91 L1071.50,394.89 L1072.50,394.87 L1073.50,394.85 L1074.50,394.83 L1075.50,394.81 L1076.50,394.80 L1077.50,394.78 L1078.50,394.76 L1079.50,394.75 L1080.50,394.74 L1081.50,394.72 L1082.50,394.71 L1083.50,394.70 L1084.50,394.69 L1085.50,394.68 L1086.50,394.67 L1087.50,394.66 L1088.50,394.66 L1089.50,394.65 L1090.50,394.64 L1091.50,394.64 L1092.50,394.63 L1093.50,394.63 L1094.50,394.63 L1095.50,394.63 L1096.50,394.63 L1097.50,394.63 L1098.50,394.63 L1099.50,394.63 L1100.50,394.63 L1101.50,394.63 L1102.50,394.64 L1103.50,394.64 L1104.50,394.65 L1105.50,394.65 L1106.50,394.66 L1107.50,394.67 L1108.50,394.68 L1109.50,394.69 L1110.50,394.70 L1111.50,394.71 L1112.50,394.72 L1113.50,394.73 L1114.50,394.75 L1115.50,394.76 L1116.50,394.78 L1117.50,394.79 L1118.50,394.81 L1119.50,394.83 L1120.50,394.84 L1121.50,394.86 L1122.50,394.88 L1123.50,394.90 L1124.50,394.93 L1125.50,394.95 L1126.50,394.97 L1127.50,395.00 L1128.50,395.02 L1129.50,395.05 L1130.50,395.08 L1131.50,395.10 L1132.50,395.13 L1133.50,395.16 L1134.50,395.19 L1135.50,395.22 L1136.50,395.26 L1137.50,395.29 L1138.50,395.32 L1139.50,395.36 L1140.50,395.39 L1141.50,395.43 L1142.50,395.47 L1143.50,395.50 L1144.50,395.54 L1145.50,395.58 L1146.50,395.63 L1147.50,395.67 L1148.50,395.71 L1149.50,395.75 L1150.50,395.80 L1151.50,395.84 L1152.50,395.89 L1153.50,395.93 L1154.50,395.98 L1155.50,396.03 L1156.50,396.08 L1157.50,396.13 L1158.50,396.18 L1159.50,396.23 L1160.50,396.28 L1161.50,396.33 L1162.50,396.38 L1163.50,396.43 L1164.50,396.48 L1165.50,396.54 L1166.50,396.59 L1167.50,396.64 L1168.50,396.70 L1169.50,396.75 L1170.50,396.81 L1171.50,396.86 L1172.50,396.92 L1173.50,396.97 L1174.50,397.03 L1175.50,397.09 L1176.50,397.14 L1177.50,397.20 L1178.50,397.26 L1179.50,397.31 L1180.50,397.37 L1181.50,397.43 L1182.50,397.48 L1183.50,397.54 L1184.50,397.60 L1185.50,397.66 L1186.50,397.71 L1187.50,397.77 L1188.50,397.83 L1189.50,397.89 L1190.50,397.94 L1191.50,398.00 L1192.50,398.06 L1193.50,398.12 L1194.50,398.17 L1195.50,398.23 L1196.50,398.29 L1197.50,398.34 L1198.50,398.40 L1199.50,398.46 L1200.50,398.51 L1201.50,398.57 L1202.50,398.62 L1203.50,398.68 L1204.50,398.73 L1205.50,398.79 L1206.50,398.84 L1207.50,398.89 L1208.50,398.94 L1209.50,399.00 L1210.50,399.05 L1211.50,399.10 L1212.50,399.15 L1213.50,399.20 L1214.50,399.25 L1215.50,399.30 L1216.50,399.35 L1217.50,399.39 L1218.50,399.44 L1219.50,399.49 L1220.50,399.53 L1221.50,399.58 L1222.50,399.62 L1223.50,399.66 L1224.50,399.71 L1225.50,399.75 L1226.50,399.79 L1227.50,399.83 L1228.50,399.87 L1229.50,399.91 L1230.50,399.94 L1231.50,399.98 L1232.50,400.01 L1233.50,400.05 L1234.50,400.08 L1235.50,400.11 L1236.50,400.14 L1237.50,400.17 L1238.50,400.20 L1239.50,400.23 L1240.50,400.25 L1241.50,400.28 L1242.50,400.30 L1243.50,400.32 L1244.50,400.34 L1245.50,400.36 L1246.50,400.38 L1247.50,400.40 L1248.50,400.42 L1249.50,400.43 L1250.50,400.45 L1251.50,400.46 L1252.50,400.47 L1253.50,400.49 L1254.50,400.50 L1255.50,400.51 L1256.50,400.51 L1257.50,400.52 L1258.50,400.53 L1259.50,400.53 L1260.50,400.54 L1261.50,400.54 L1262.50,400.55 L1263.50,400.55 L1264.50,400.55 L1265.50,400.55 L1266.50,400.55 L1267.50,400.55 L1268.50,400.55 L1269.50,400.54 L1270.50,400.54 L1271.50,400.54 L1272.50,400.53 L1273.50,400.53 L1274.50,400.52 L1275.50,400.52 L1276.50,400.51 L1277.50,400.51 L1278.50,400.50 L1279.50,400.49 L1280.50,400.49 L1281.50,400.48 L1282.50,400.48 L1283.50,400.47 L1284.50,400.46 L1285.50,400.46 L1286.50,400.45 L1287.50,400.45 L1288.50,400.44 L1289.50,400.44 L1290.50,400.43 L1291.50,400.43 L1292.50,400.42 L1293.50,400.42 L1294.50,400.42 L1295.50,400.41 L1296.50,400.41 L1297.50,400.41 L1298.50,400.41 L1299.50,400.41 L1300.50,400.41 L1301.50,400.41 L1302.50,400.41 L1303.50,400.41 L1304.50,400.42 L1305.50,400.42 L1306.50,400.42 L1307.50,400.43 L1308.50,400.44 L1309.50,400.44 L1310.50,400.45 L1311.50,400.46 L1312.50,400.47 L1313.50,400.49 L1314.50,400.50 L1315.50,400.51 L1316.50,400.53 L1317.50,400.54 L1318.50,400.56 L1319.50,400.58 L1320.50,400.60 L1321.50,400.62 L1322.50,400.64 L1323.50,400.67 L1324.50,400.69 L1325.50,400.72 L1326.50,400.75 L1327.50,400.78 L1328.50,400.81 L1329.50,400.85 L1330.50,400.88 L1331.50,400.92 L1332.50,400.95 L1333.50,400.99 L1334.50,401.03 L1335.50,401.08 L1336.50,401.12 L1337.50,401.16 L1338.50,401.21 L1339.50,401.26 L1340.50,401.31 L1341.50,401.36 L1342.50,401.41 L1343.50,401.46 L1344.50,401.52 L1345.50,401.58 L1346.50,401.63 L1347.50,401.69 L1348.50,401.75 L1349.50,401.82 L1350.50,401.88 L1351.50,401.95 L1352.50,402.01 L1353.50,402.08 L1354.50,402.15 L1355.50,402.22 L1356.50,402.29 L1357.50,402.37 L1358.50,402.45 L1359.50,402.52 L1360.50,402.60 L1361.50,402.68 L1362.50,402.77 L1363.50,402.85 L1364.50,402.94 L1365.50,403.02 L1366.50,403.11 L1367.50,403.20 L1368.50,403.30 L1369.50,403.39 L1370.50,403.49 L1371.50,403.59 L1372.50,403.69 L1373.50,403.79 L1374.50,403.89 L1375.50,404.00 L1376.50,404.11 L1377.50,404.22 L1378.50,404.33 L1379.50,404.44 L1380.50,404.56 L1381.50,404.68 L1382.50,404.80 L1383.50,404.92 L1384.50,405.04 L1385.50,405.17 L1386.50,405.30 L1387.50,405.43 L1388.50,405.56 L1389.50,405.70 L1390.50,405.84 L1391.50,405.98 L1392.50,406.12 L1393.50,406.27 L1394.50,406.42 L1395.50,406.57 L1396.50,406.73 L1397.50,406.88 L1398.50,407.04 L1399.50,407.20 L1400.50,407.37 L1401.50,407.54 L1402.50,407.71 L1403.50,407.88 L1404.50,408.06 L1405.50,408.24 L1406.50,408.42 L1407.50,408.61 L1408.50,408.80 L1409.50,408.99 L1410.50,409.19 L1411.50,409.39 L1412.50,409.59 L1413.50,409.79 L1414.50,410.00 L1415.50,410.21 L1416.50,410.43 L1417.50,410.65 L1418.50,410.87 L1419.50,411.10 L1420.50,411.33 L1421.50,411.56 L1422.50,411.79 L1423.50,412.03 L1424.50,412.28 L1425.50,412.52 L1426.50,412.77 L1427.50,413.03 L1428.50,413.29 L1429.50,413.55 L1430.50,413.81 L1431.50,414.08 L1432.50,414.35 L1433.50,414.63 L1434.50,414.91 L1435.50,415.20 L1436.51,415.48 L1437.01,415.64 L1437.51,415.79 L1438.02,415.94 L1438.52,416.10 L1439.02,416.25 L1439.53,416.40 L1440.03,416.56 L1440.53,416.71 L1441.04,416.87 L1441.54,417.02 L1442.04,417.18 L1442.55,417.33 L1443.05,417.49 L1443.55,417.65 L1444.05,417.81 L1444.56,417.96 L1445.06,418.12 L1445.56,418.28 L1446.06,418.44 L1446.57,418.60 L1447.07,418.76 L1447.57,418.92 L1448.07,419.09 L1448.57,419.25 L1449.07,419.41 L1449.57,419.58 L1450.07,419.74 L1450.57,419.91 L1451.07,420.08 L1451.57,420.25 L1452.07,420.42 L1452.57,420.59 L1453.07,420.76 L1453.57,420.93 L1454.06,421.11 L1454.56,421.28 L1455.06,421.46 L1455.55,421.63 L1456.05,421.81 L1456.54,421.99 L1457.04,422.18 L1457.53,422.36 L1458.02,422.54 L1458.52,422.73 L1459.01,422.92 L1459.50,423.11 L1459.99,423.30 L1460.48,423.49 L1460.97,423.68 L1461.46,423.88 L1461.95,424.07 L1462.43,424.27 L1462.92,424.47 L1463.41,424.67 L1463.89,424.88 L1464.38,425.08 L1464.86,425.29 L1465.34,425.50 L1465.82,425.71 L1466.31,425.93 L1466.79,426.14 L1467.27,426.36 L1467.74,426.58 L1468.22,426.80 L1468.70,427.03 L1469.17,427.25 L1469.65,427.48 L1470.12,427.71 L1470.59,427.94 L1471.07,428.18 L1471.54,428.41 L1472.01,428.65 L1472.47,428.89 L1472.94,429.13 L1473.41,429.38 L1473.87,429.63 L1474.33,429.87 L1474.80,430.13 L1475.26,430.38 L1475.72,430.63 L1476.18,430.89 L1476.63,431.15 L1477.09,431.41 L1477.55,431.68 L1478.00,431.94 L1478.45,432.21 L1478.90,432.48 L1479.35,432.75 L1479.80,433.03 L1480.25,433.31 L1480.69,433.59 L1481.13,433.87 L1481.58,434.15 L1482.02,434.44 L1482.45,434.72 L1482.89,435.01 L1483.33,435.31 L1483.76,435.60 L1484.19,435.90 L1484.62,436.20 L1485.05,436.50 L1485.48,436.80 L1485.91,437.11 L1486.33,437.42 L1486.75,437.73 L1487.17,438.04 L1487.59,438.35 L1488.01,438.67 L1488.42,438.99 L1488.84,439.31 L1489.25,439.64 L1489.66,439.96 L1490.06,440.29 L1490.47,440.62 L1490.87,440.96 L1491.27,441.29 L1491.67,441.63 L1492.07,441.97 L1492.47,442.31 L1492.86,442.66 L1493.25,443.00 L1493.64,443.35 L1494.03,443.70 L1494.41,444.06 L1494.80,444.41 L1495.18,444.77 L1495.55,445.13 L1495.93,445.50 L1496.30,445.86 L1496.68,446.23 L1497.05,446.60 L1497.41,446.98 L1497.78,447.35 L1498.14,447.73 L1498.50,448.11 L1498.86,448.49 L1499.21,448.88 L1499.56,449.26 L1499.92,449.65 L1500.26,450.05 L1500.61,450.44 L1500.95,450.84 L1501.29,451.24 L1501.63,451.64 L1501.96,452.04 L1502.30,452.45 L1502.63,452.86 L1502.95,453.27 L1503.28,453.68 L1503.60,454.10 L1503.92,454.52 L1504.24,454.94 L1504.56,455.36 L1504.87,455.78 L1505.18,456.21 L1505.49,456.64 L1505.80,457.07 L1506.10,457.50 L1506.41,457.93 L1506.71,458.37 L1507.01,458.81 L1507.30,459.25 L1507.60,459.69 L1507.89,460.13 L1508.18,460.57 L1508.47,461.02 L1508.76,461.46 L1509.05,461.91 L1509.33,462.36 L1509.61,462.81 L1509.90,463.26 L1510.18,463.72 L1510.45,464.17 L1510.73,464.63 L1511.01,465.08 L1511.28,465.54 L1511.55,466.00 L1511.82,466.46 L1512.09,466.92 L1512.36,467.38 L1512.63,467.84 L1512.89,468.30 L1513.16,468.77 L1513.42,469.23 L1513.69,469.69 L1513.95,470.16 L1514.21,470.62 L1514.47,471.09 L1514.73,471.56 L1514.98,472.02 L1515.24,472.49 L1515.50,472.96 L1515.75,473.43 L1516.01,473.89 L1516.26,474.36 L1516.52,474.83 L1516.77,475.30 L1517.02,475.77 L1517.27,476.24 L1517.52,476.70 L1517.77,477.17 L1518.02,477.64 L1518.27,478.11 L1518.52,478.58 L1518.77,479.05 L1519.02,479.52 L1519.26,479.98 L1519.51,480.45 L1519.75,480.92 L1520.00,481.39 L1520.24,481.86 L1520.49,482.33 L1520.73,482.80 L1520.97,483.27 L1521.22,483.74 L1521.46,484.21 L1521.70,484.67 L1521.94,485.14 L1522.18,485.61 L1522.42,486.08 L1522.66,486.55 L1522.90,487.02 L1523.14,487.49 L1523.38,487.96 L1523.61,488.43 L1523.85,488.90 L1524.09,489.37 L1524.32,489.84 L1524.56,490.31 L1524.79,490.78 L1525.03,491.25 L1525.26,491.72 L1525.50,492.19 L1525.73,492.66 L1525.96,493.13 L1526.19,493.60 L1526.43,494.07 L1526.66,494.54 L1526.89,495.01 L1527.12,495.48 L1527.35,495.95 L1527.58,496.43 L1527.81,496.90 L1528.04,497.37 L1528.26,497.84 L1528.49,498.31 L1528.72,498.78 L1528.95,499.25 L1529.17,499.72 L1529.40,500.20 L1529.63,500.67 L1529.85,501.14 L1530.08,501.61 L1530.30,502.08 L1530.53,502.56 L1530.75,503.03 L1530.98,503.50 L1531.20,503.97 L1531.42,504.44 L1531.65,504.92 L1531.87,505.39 L1532.09,505.86 L1532.31,506.33 L1532.54,506.81 L1532.76,507.28 L1532.98,507.75 L1533.20,508.23 L1533.42,508.70 L1533.64,509.17 L1533.86,509.65 L1534.08,510.12 L1534.30,510.59 L1534.52,511.07 L1534.74,511.54 L1534.96,512.02 L1535.17,512.49 L1535.39,512.96 L1535.61,513.44 L1535.83,513.91 L1536.04,514.39 L1536.26,514.86 L1536.48,515.34 L1536.69,515.81 L1536.91,516.29 L1537.13,516.76 L1537.34,517.24 L1537.56,517.71 L1537.77,518.19 L1537.99,518.66 L1538.20,519.14 L1538.42,519.61 L1538.63,520.09 L1538.85,520.57 L1539.06,521.04 L1539.28,521.52 L1539.49,522.00 L1539.70,522.47 L1539.92,522.95 L1540.13,523.43 L1540.34,523.90 L1540.56,524.38 L1540.77,524.86 L1540.98,525.33 L1541.20,525.81 L1541.41,526.29 L1541.62,526.77 L1541.83,527.25 L1542.05,527.72 L1542.26,528.20 L1542.47,528.68 L1542.68,529.16 L1542.89,529.64 L1543.10,530.12 L1543.32,530.59 L1543.53,531.07 L1543.74,531.55 L1543.95,532.03 L1544.16,532.51 L1544.37,532.99 L1544.58,533.47 L1544.79,533.95 L1545.01,534.43 L1545.22,534.91 L1545.43,535.39 L1545.64,535.87 L1545.85,536.35 L1546.06,536.83 L1546.27,537.31 L1546.48,537.80 L1546.69,538.28 L1546.90,538.76 L1547.11,539.24 L1547.32,539.72 L1547.53,540.20 L1547.74,540.69 L1547.95,541.17 L1548.16,541.65 L1548.38,542.13 L1548.59,542.61 L1548.80,543.10 L1549.01,543.58 L1549.22,544.06 L1549.43,544.55 L1549.64,545.03 L1549.85,545.51 L1550.06,546.00 L1550.27,546.48 L1550.48,546.97 L1550.69,547.45 L1550.90,547.94 L1551.12,548.42 L1551.33,548.91 L1551.54,549.39 L1551.75,549.88 L1551.96,550.36 L1552.17,550.85 L1552.38,551.33 L1552.60,551.82 L1552.81,552.31 L1553.02,552.79 L1553.23,553.28 L1553.44,553.76 L1553.66,554.25 L1553.87,554.74 L1554.08,555.23 L1554.29,555.71 L1554.51,556.20 L1554.72,556.69 L1554.93,557.18 L1555.14,557.67 L1555.36,558.15 L1555.57,558.64 L1555.79,559.13 L1556.00,559.62 L1556.21,560.11 L1556.43,560.60 L1556.64,561.09 L1556.86,561.58 L1557.07,562.07 L1557.29,562.56 L1557.50,563.05 L1557.72,563.54 L1557.93,564.03 L1558.15,564.52 L1558.36,565.01 L1558.58,565.50 L1558.80,566.00 L1559.01,566.49 L1559.23,566.98 L1559.45,567.47 L1559.66,567.96 L1559.88,568.46 L1560.10,568.95 L1560.32,569.44 L1560.54,569.94 L1560.76,570.43 L1560.97,570.92 L1561.19,571.42 L1561.41,571.91 L1561.63,572.41 L1561.85,572.90 L1562.07,573.40 L1562.29,573.89 L1562.51,574.39 L1562.74,574.88 L1562.96,575.38 L1563.18,575.87 L1563.40,576.37 L1563.62,576.87 L1563.85,577.36 L1564.07,577.86 L1564.30,578.35 L1564.52,578.85 L1564.75,579.34 L1564.98,579.83 L1565.21,580.32 L1565.45,580.81 L1565.68,581.29 L1565.92,581.77 L1566.17,582.24 L1566.41,582.72 L1566.66,583.19 L1566.92,583.65 L1567.17,584.11 L1567.44,584.56 L1567.70,585.01 L1567.98,585.45 L1568.25,585.88 L1568.54,586.31 L1568.82,586.73 L1569.12,587.15 L1569.42,587.55 L1569.73,587.95 L1570.04,588.34 L1570.36,588.72 L1570.69,589.09 L1571.02,589.45 L1571.37,589.80 L1571.72,590.15 L1572.08,590.48 L1572.45,590.80 L1572.82,591.11 L1573.21,591.40 L1573.60,591.68 L1574.00,591.94 L1574.41,592.18 L1574.81,592.39 L1575.22,592.57 L1575.63,592.70 L1576.04,592.80 L1576.45,592.85 L1576.85,592.85 L1577.25,592.80 L1577.64,592.70 L1578.02,592.56 L1578.40,592.37 L1578.77,592.14 L1579.13,591.88 L1579.48,591.58 L1579.82,591.25 L1580.16,590.89 L1580.48,590.50 L1580.79,590.10 L1581.09,589.67 L1581.37,589.23 L1581.65,588.78 L1581.91,588.32 L1582.15,587.85 L1582.38,587.37 L1582.60,586.89 L1582.80,586.40 L1582.99,585.91 L1583.17,585.41 L1583.34,584.91 L1583.50,584.41 L1583.64,583.90 L1583.78,583.39 L1583.91,582.87 L1584.03,582.35 L1584.14,581.83 L1584.24,581.30 L1584.34,580.77 L1584.42,580.24 L1584.51,579.71 L1584.59,579.17 L1584.66,578.64 L1584.73,578.10 L1584.79,577.56 L1584.85,577.02 L1584.91,576.48 L1584.97,575.93 L1585.02,575.39 L1585.08,574.85 L1585.13,574.31 L1585.18,573.76 L1585.24,573.22 L1585.29,572.68 L1585.35,572.14 L1585.40,571.60 L1585.46,571.06 L1585.52,570.52 L1585.58,569.98 L1585.64,569.44 L1585.70,568.90 L1585.76,568.36 L1585.82,567.82 L1585.88,567.29 L1585.94,566.75 L1586.01,566.21 L1586.07,565.68 L1586.14,565.14 L1586.20,564.61 L1586.27,564.07 L1586.34,563.54 L1586.41,563.01 L1586.47,562.47 L1586.54,561.94 L1586.61,561.41 L1586.68,560.88 L1586.75,560.35 L1586.82,559.82 L1586.89,559.28 L1586.97,558.75 L1587.04,558.23 L1587.11,557.70 L1587.18,557.17 L1587.26,556.64 L1587.33,556.11 L1587.41,555.58 L1587.48,555.05 L1587.56,554.53 L1587.63,554.00 L1587.71,553.47 L1587.78,552.95 L1587.86,552.42 L1587.94,551.90 L1588.02,551.37 L1588.09,550.84 L1588.17,550.32 L1588.25,549.80 L1588.33,549.27 L1588.40,548.75 L1588.48,548.22 L1588.56,547.70 L1588.64,547.18 L1588.72,546.65 L1588.80,546.13 L1588.88,545.61 L1588.96,545.09 L1589.04,544.56 L1589.12,544.04 L1589.20,543.52 L1589.28,543.00 L1589.36,542.48 L1589.44,541.96 L1589.52,541.44 L1589.60,540.92 L1589.68,540.40 L1589.76,539.88 L1589.84,539.35 L1589.92,538.84 L1590.00,538.32 L1590.08,537.80 L1590.16,537.28 L1590.24,536.76 L1590.31,536.24 L1590.39,535.72 L1590.47,535.20 L1590.55,534.68 L1590.63,534.16 L1590.71,533.64 L1590.79,533.12 L1590.87,532.61 L1590.94,532.09 L1591.02,531.57 L1591.10,531.05 L1591.18,530.53 L1591.25,530.02 L1591.33,529.50 L1591.41,528.98 L1591.48,528.46 L1591.56,527.94 L1591.63,527.43 L1591.71,526.91 L1591.78,526.39 L1591.86,525.87 L1591.93,525.35 L1592.00,524.84 L1592.08,524.32 L1592.15,523.80 L1592.22,523.28 L1592.29,522.77 L1592.36,522.25 L1592.43,521.73 L1592.50,521.21 L1592.57,520.69 L1592.64,520.18 L1592.71,519.66 L1592.77,519.14 L1592.84,518.62 L1592.91,518.10 L1592.97,517.59 L1593.04,517.07 L1593.10,516.55 L1593.17,516.03 L1593.23,515.51 L1593.29,514.99 L1593.35,514.47 L1593.42,513.95 L1593.48,513.44 L1593.53,512.92 L1593.59,512.40 L1593.65,511.88 L1593.71,511.36 L1593.77,510.84 L1593.82,510.32 L1593.88,509.80 L1593.93,509.28 L1593.99,508.76 L1594.04,508.24 L1594.10,507.72 L1594.15,507.20 L1594.20,506.68 L1594.25,506.16 L1594.30,505.64 L1594.35,505.11 L1594.40,504.59 L1594.45,504.07 L1594.50,503.55 L1594.55,503.03 L1594.60,502.51 L1594.65,501.99 L1594.70,501.47 L1594.74,500.94 L1594.79,500.42 L1594.84,499.90 L1594.88,499.38 L1594.93,498.86 L1594.98,498.33 L1595.02,497.81 L1595.07,497.29 L1595.11,496.77 L1595.16,496.24 L1595.20,495.72 L1595.25,495.20 L1595.29,494.68 L1595.33,494.15 L1595.38,493.63 L1595.42,493.11 L1595.46,492.58 L1595.51,492.06 L1595.55,491.54 L1595.59,491.01 L1595.63,490.49 L1595.68,489.97 L1595.72,489.44 L1595.76,488.92 L1595.80,488.40 L1595.85,487.87 L1595.89,487.35 L1595.93,486.82 L1595.97,486.30 L1596.02,485.78 L1596.06,485.25 L1596.10,484.73 L1596.14,484.20 L1596.19,483.68 L1596.23,483.15 L1596.27,482.63 L1596.31,482.10 L1596.36,481.58 L1596.40,481.05 L1596.44,480.53 L1596.49,480.00 L1596.53,479.48 L1596.57,478.95 L1596.62,478.43 L1596.66,477.90 L1596.71,477.38 L1596.75,476.85 L1596.79,476.33 L1596.84,475.80 L1596.89,475.28 L1596.93,474.75 L1596.98,474.22 L1597.02,473.70 L1597.07,473.17 L1597.12,472.65 L1597.16,472.12 L1597.21,471.59 L1597.26,471.07 L1597.31,470.54 L1597.36,470.02 L1597.41,469.49 L1597.46,468.96 L1597.51,468.44 L1597.56,467.91 L1597.61,467.38 L1597.66,466.86 L1597.71,466.33 L1597.77,465.80 L1597.82,465.28 L1597.87,464.75 L1597.93,464.22 L1597.98,463.70 L1598.04,463.17 L1598.10,462.64 L1598.15,462.11 L1598.21,461.59 L1598.27,461.06 L1598.33,460.53 L1598.39,460.01 L1598.45,459.48 L1598.51,458.95 L1598.57,458.42 L1598.63,457.90 L1598.69,457.37 L1598.76,456.84 L1598.82,456.31 L1598.89,455.79 L1598.95,455.26 L1599.02,454.73 L1599.09,454.20 L1599.16,453.68 L1599.23,453.15 L1599.30,452.62 L1599.37,452.09 L1599.44,451.56 L1599.51,451.04 L1599.59,450.51 L1599.66,449.98 L1599.74,449.45 L1599.82,448.92 L1599.89,448.40 L1599.97,447.87 L1600.05,447.34 L1600.13,446.81 L1600.22,446.28 L1600.30,445.76 L1600.38,445.23 L1600.47,444.70 L1600.55,444.17 L1600.64,443.64 L1600.73,443.11 L1600.82,442.59 L1600.91,442.06 L1601.00,441.53 L1601.09,441.00 L1601.19,440.47 L1601.28,439.94 L1601.38,439.42 L1601.48,438.89 L1601.58,438.36 L1601.68,437.83 L1601.78,437.30 L1601.88,436.78 L1601.99,436.25 L1602.10,435.73 L1602.22,435.21 L1602.34,434.69 L1602.46,434.18 L1602.59,433.66 L1602.73,433.15 L1602.87,432.65 L1603.01,432.15 L1603.17,431.65 L1603.33,431.16 L1603.49,430.67 L1603.67,430.19 L1603.85,429.72 L1604.05,429.25 L1604.25,428.79 L1604.46,428.33 L1604.68,427.89 L1604.91,427.45 L1605.15,427.01 L1605.41,426.59 L1605.67,426.18 L1605.95,425.77 L1606.23,425.37 L1606.54,424.99 L1606.85,424.61 L1607.18,424.24 L1607.52,423.89 L1607.88,423.54 L1608.25,423.21 L1608.64,422.89 L1609.04,422.58 L1609.46,422.28 L1609.89,422.00 L1610.34,421.73 L1610.81,421.47 L1611.30,421.23 L1611.80,421.00 L1612.33,420.79 L1612.87,420.59 L1613.43,420.40 L1614.01,420.23 L1643,421" stroke="#ff0000"/>
<path d="M171.50,643.45 L172.50,643.51 L173.50,643.56 L174.50,643.62 L175.50,643.67 L176.50,643.73 L177.50,643.79 L178.50,643.85 L179.50,643.91 L180.50,643.97 L181.50,644.03 L182.50,644.09 L183.50,644.16 L184.50,644.23 L185.50,644.30 L186.50,644.37 L187.50,644.45 L188.50,644.53 L189.50,644.61 L190.50,644.69 L191.50,644.78 L192.50,644.87 L193.50,644.97 L194.50,645.06 L195.50,645.17 L196.50,645.27 L197.50,645.38 L198.50,645.50 L199.50,645.62 L200.50,645.74 L201.50,645.87 L202.50,646.00 L203.50,646.14 L204.50,646.28 L205.50,646.42 L206.50,646.57 L207.50,646.71 L208.50,646.87 L209.50,647.02 L210.50,647.18 L211.50,647.34 L212.50,647.50 L213.50,647.66 L214.50,647.83 L215.50,648.00 L216.50,648.17 L217.50,648.34 L218.50,648.52 L219.50,648.69 L220.50,648.88 L221.50,649.06 L222.50,649.24 L223.50,649.43 L224.50,649.62 L225.50,649.81 L226.50,650.00 L227.50,650.20 L228.50,650.40 L229.50,650.60 L230.50,650.80 L231.50,651.01 L232.50,651.21 L233.50,651.42 L234.50,651.64 L235.50,651.85 L236.50,652.07 L237.50,652.29 L238.50,652.52 L239.50,652.74 L240.50,652.97 L241.50,653.20 L242.50,653.44 L243.50,653.67 L244.50,653.91 L245.50,654.16 L246.50,654.40 L247.50,654.65 L248.50,654.90 L249.50,655.16 L250.50,655.42 L251.50,655.68 L252.50,655.94 L253.50,656.21 L254.50,656.48 L255.50,656.76 L256.50,657.03 L257.50,657.31 L258.50,657.59 L259.50,657.87 L260.50,658.15 L261.50,658.44 L262.50,658.73 L263.50,659.02 L264.50,659.31 L265.50,659.60 L266.50,659.89 L267.50,660.18 L268.50,660.47 L269.50,660.77 L270.50,661.06 L271.50,661.35 L272.50,661.65 L273.3,662.1 C276.5,662.4 278.5,660.6 282,660.4 L290,660.2 C294,660.2 296,660.2 298,660.3 L298.00,660.26 L299.00,660.51 L300.00,660.76 L301.00,661.01 L302.00,661.26 L303.00,661.52 L304.00,661.77 L305.00,662.02 L306.00,662.27 L307.00,662.52 L308.00,662.78 L309.00,663.03 L310.00,663.28 L311.00,663.53 L312.00,663.79 L313.00,664.04 L314.00,664.29 L315.00,664.55 L316.00,664.80 L317.00,665.06 L318.00,665.31 L319.00,665.57 L320.00,665.83 L321.00,666.08 L322.00,666.34 L323.00,666.60 L324.00,666.86 L325.00,667.13 L326.00,667.39 L327.00,667.66 L328.00,667.92 L329.00,668.19 L330.00,668.46 L331.00,668.73 L332.00,669.01 L333.00,669.28 L334.00,669.56 L335.00,669.84 L336.00,670.12 L337.00,670.41 L338.00,670.69 L339.00,670.98 L340.00,671.28 L341.00,671.57 L342.00,671.87 L343.00,672.16 L344.00,672.47 L345.00,672.77 L346.00,673.08 L347.00,673.38 L348.00,673.70 L349.00,674.01 L350.00,674.33 L351.00,674.64 L352.00,674.97 L353.00,675.29 L354.00,675.62 L355.00,675.95 L356.00,676.28 L357.00,676.61 L358.00,676.95 L359.00,677.29 L360.00,677.63 L361.00,677.98 L362.00,678.33 L363.00,678.68 L364.00,679.03 L365.00,679.39 L366.00,679.74 L367.00,680.10 L368.00,680.47 L369.00,680.83 L370.00,681.20 L371.00,681.57 L372.00,681.94 L373.00,682.32 L374.00,682.69 L375.00,683.07 L376.00,683.45 L377.00,683.84 L378.00,684.22 L379.00,684.61 L380.00,685.00 L381.00,685.39 L382.00,685.78 L383.00,686.18 L384.00,686.58 L385.00,686.98 L386.00,687.38 L387.00,687.78 L388.00,688.18 L389.00,688.59 L390.00,689.00 L391.00,689.41 L392.00,689.82 L393.00,690.24 L394.00,690.65 L395.00,691.07 L396.00,691.49 L397.00,691.91 L398.00,692.34 L399.00,692.76 L400.00,693.19 L401.00,693.61 L402.00,694.04 L403.00,694.47 L404.00,694.91 L405.00,695.34 L406.00,695.78 L407.00,696.21 L408.00,696.65 L409.00,697.09 L410.00,697.54 L411.00,697.98 L412.00,698.42 L413.00,698.87 L414.00,699.32 L415.00,699.77 L416.00,700.22 L417.00,700.67 L418.00,701.12 L419.00,701.58 L420.00,702.03 L421.00,702.49 L422.00,702.95 L423.00,703.41 L424.00,703.87 L425.00,704.33 L426.00,704.79 L427.00,705.25 L428.00,705.72 L429.00,706.18 L430.00,706.65 L431.00,707.11 L432.00,707.58 L433.00,708.05 L434.00,708.52 L435.00,708.99 L436.00,709.45 L437.00,709.92 L438.00,710.39 L439.00,710.86 L440.00,711.33 L441.00,711.80 L442.00,712.27 L443.00,712.75 L444.00,713.22 L445.00,713.69 L446.00,714.16 L447.00,714.63 L448.00,715.10 L449.00,715.57 L450.00,716.04 L451.00,716.51 L452.00,716.98 L453.00,717.45 L454.00,717.92 L455.00,718.39 L456.00,718.86 L457.00,719.32 L458.00,719.79 L459.00,720.26 L460.00,720.73 L461.00,721.19 L462.00,721.66 L463.00,722.12 L464.00,722.59 L465.00,723.05 L466.00,723.51 L467.00,723.98 L468.00,724.44 L469.00,724.90 L470.00,725.36 L471.00,725.82 L472.00,726.28 L473.00,726.74 L474.00,727.19 L475.00,727.65 L476.00,728.10 L477.00,728.56 L478.00,729.01 L479.00,729.46 L480.00,729.91 L481.00,730.35 L482.00,730.80 L483.00,731.24 L484.00,731.68 L485.00,732.12 L486.00,732.55 L487.00,732.99 L488.00,733.42 L489.00,733.85 L490.00,734.27 L491.00,734.69 L492.00,735.11 L493.00,735.53 L494.00,735.94 L495.00,736.35 L496.00,736.76 L497.00,737.16 L498.00,737.56 L499.00,737.96 L500.00,738.35 L501.00,738.74 L502.00,739.12 L503.00,739.50 L504.00,739.87 L505.00,740.24 L506.00,740.61 L507.00,740.97 L508.00,741.33 L509.00,741.68 L510.00,742.02 L511.00,742.37 L512.00,742.70 L513.00,743.03 L514.00,743.36 L515.00,743.68 L516.00,743.99 L517.00,744.30 L518.00,744.60 L519.00,744.89 L520.00,745.18 L521.00,745.46 L522.00,745.74 L523.00,746.01 L524.00,746.27 L525.00,746.53 L526.00,746.78 L527.00,747.02 L528.00,747.26 L529.00,747.48 L530.00,747.70 L531.00,747.92 L532.00,748.13 L533.00,748.33 L534.00,748.52 L535.00,748.70 L536.00,748.88 L537.00,749.05 L538.00,749.22 L539.00,749.37 L540.00,749.52 L541.00,749.67 L542.00,749.80 L543.00,749.93 L544.00,750.05 L545.00,750.16 L546.00,750.27 L547.00,750.37 L548.00,750.46 L549.00,750.55 L550.00,750.62 L551.00,750.69 L552.00,750.76 L553.00,750.81 L554.00,750.86 L555.00,750.90 L556.00,750.94 L557.00,750.96 L558.00,750.98 L559.00,750.99 L560.00,751.00 L561.00,751.00 L562.00,750.99 L563.00,750.97 L564.00,750.95 L565.00,750.92 L566.00,750.88 L567.00,750.83 L568.00,750.78 L569.00,750.72 L570.00,750.65 L571.00,750.58 L572.00,750.50 L573.00,750.41 L574.00,750.32 L575.00,750.22 L576.00,750.11 L577.00,750.00 L578.00,749.88 L579.00,749.76 L580.00,749.62 L581.00,749.49 L582.00,749.35 L583.00,749.20 L584.00,749.04 L585.00,748.88 L586.00,748.72 L587.00,748.55 L588.00,748.37 L589.00,748.19 L590.00,748.01 L591.00,747.82 L592.00,747.62 L593.00,747.42 L594.00,747.21 L595.00,747.00 L596.00,746.79 L597.00,746.57 L598.00,746.35 L599.00,746.12 L600.00,745.89 L601.00,745.65 L602.00,745.41 L603.00,745.16 L604.00,744.91 L605.00,744.66 L606.00,744.40 L607.00,744.14 L608.00,743.88 L609.00,743.61 L610.00,743.34 L611.00,743.07 L612.00,742.79 L613.00,742.51 L614.00,742.22 L615.00,741.93 L616.00,741.64 L617.00,741.34 L618.00,741.04 L619.00,740.74 L620.00,740.43 L621.00,740.12 L622.00,739.80 L623.00,739.48 L624.00,739.16 L625.00,738.84 L626.00,738.51 L627.00,738.18 L628.00,737.84 L629.00,737.50 L630.00,737.16 L631.00,736.81 L632.00,736.46 L633.00,736.10 L634.00,735.74 L635.00,735.38 L636.00,735.02 L637.00,734.65 L638.00,734.27 L639.00,733.90 L640.00,733.52 L641.00,733.14 L642.00,732.75 L643.00,732.36 L644.00,731.97 L645.00,731.57 L646.00,731.17 L647.00,730.77 L648.00,730.37 L649.00,729.96 L650.00,729.55 L651.00,729.14 L652.00,728.72 L653.00,728.30 L654.00,727.88 L655.00,727.46 L656.00,727.04 L657.00,726.61 L658.00,726.18 L659.00,725.75 L660.00,725.32 L661.00,724.89 L662.00,724.46 L663.00,724.02 L664.00,723.58 L665.00,723.14 L666.00,722.70 L667.00,722.26 L668.00,721.82 L669.00,721.37 L670.00,720.93 L671.00,720.48 L672.00,720.04 L673.00,719.59 L674.00,719.14 L675.00,718.69 L676.00,718.24 L677.00,717.80 L678.00,717.35 L679.00,716.90 L680.00,716.45 L681.00,716.00 L682.00,715.55 L683.00,715.10 L684.00,714.65 L685.00,714.20 L686.00,713.75 L687.00,713.30 L688.00,712.86 L689.00,712.41 L690.00,711.96 L691.00,711.52 L692.00,711.07 L693.00,710.63 L694.00,710.19 L695.00,709.75 L696.00,709.31 L697.00,708.87 L698.00,708.43 L699.00,707.99 L700.00,707.56 L701.00,707.13 L702.00,706.70 L703.00,706.27 L704.00,705.84 L705.00,705.41 L706.00,704.99 L707.00,704.57 L708.00,704.15 L709.00,703.73 L710.00,703.31 L711.00,702.90 L712.00,702.49 L713.00,702.08 L714.00,701.67 L715.00,701.27 L716.00,700.87 L717.00,700.47 L718.00,700.08 L719.00,699.68 L720.00,699.29 L721.00,698.91 L722.00,698.52 L723.00,698.14 L724.00,697.77 L725.00,697.39 L726.00,697.02 L727.00,696.66 L728.00,696.29 L729.00,695.93 L730.00,695.58 L731.00,695.22 L732.00,694.87 L733.00,694.53 L734.00,694.18 L735.00,693.84 L736.00,693.51 L737.00,693.18 L738.00,692.85 L739.00,692.53 L740.00,692.21 L741.00,691.89 L742.00,691.58 L743.00,691.28 L744.00,690.97 L745.00,690.68 L746.00,690.38 L747.00,690.09 L748.00,689.81 L749.00,689.53 L750.00,689.25 L751.00,688.98 L752.00,688.71 L753.00,688.45 L754.00,688.19 L755.00,687.93 L756.00,687.68 L757.00,687.43 L758.00,687.19 L759.00,686.96 L760.00,686.72 L761.00,686.49 L762.00,686.27 L763.00,686.05 L764.00,685.83 L765.00,685.62 L766.00,685.41 L767.00,685.21 L768.00,685.01 L769.00,684.81 L770.00,684.62 L771.00,684.43 L772.00,684.25 L773.00,684.07 L774.00,683.90 L775.00,683.73 L776.00,683.56 L777.00,683.40 L778.00,683.24 L779.00,683.08 L780.00,682.93 L781.00,682.79 L782.00,682.64 L783.00,682.51 L784.00,682.37 L785.00,682.24 L786.00,682.11 L787.00,681.99 L788.00,681.87 L789.00,681.76 L790.00,681.65 L791.00,681.54 L792.00,681.44 L793.00,681.34 L794.00,681.24 L795.00,681.15 L796.00,681.06 L797.00,680.97 L798.00,680.89 L799.00,680.82 L800.00,680.74 L801.00,680.67 L802.00,680.60 L803.00,680.54 L804.00,680.48 L805.00,680.43 L806.00,680.37 L807.00,680.32 L808.00,680.28 L809.00,680.23 L810.00,680.19 L811.00,680.16 L812.00,680.12 L813.00,680.09 L814.00,680.07 L815.00,680.04 L816.00,680.02 L817.00,680.00 L818.00,679.99 L819.00,679.97 L820.00,679.96 L821.00,679.96 L822.00,679.95 L823.00,679.95 L824.00,679.95 L825.00,679.96 L826.00,679.96 L827.00,679.97 L828.00,679.98 L829.00,679.99 L830.00,680.01 L831.00,680.03 L832.00,680.05 L833.00,680.07 L834.00,680.09 L835.00,680.12 L836.00,680.15 L837.00,680.18 L838.00,680.22 L839.00,680.25 L840.00,680.29 L841.00,680.33 L842.00,680.37 L843.00,680.41 L844.00,680.46 L845.00,680.50 L846.00,680.55 L847.00,680.60 L848.00,680.65 L849.00,680.70 L850.00,680.76 L851.00,680.81 L852.00,680.87 L853.00,680.93 L854.00,680.99 L855.00,681.05 L856.00,681.11 L857.00,681.17 L858.00,681.24 L859.00,681.30 L860.00,681.37 L861.00,681.43 L862.00,681.50 L863.00,681.57 L864.00,681.63 L865.00,681.70 L866.00,681.77 L867.00,681.84 L868.00,681.91 L869.00,681.98 L870.00,682.05 L871.00,682.12 L872.00,682.19 L873.00,682.26 L874.00,682.33 L875.00,682.39 L876.00,682.46 L877.00,682.53 L878.00,682.60 L879.00,682.67 L880.00,682.73 L881.00,682.80 L882.00,682.87 L883.00,682.93 L884.00,683.00 L885.00,683.06 L886.00,683.13 L887.00,683.19 L888.00,683.26 L889.00,683.32 L890.00,683.38 L891.00,683.44 L892.00,683.51 L893.00,683.57 L894.00,683.63 L895.00,683.69 L896.00,683.75 L897.00,683.81 L898.00,683.87 L899.00,683.93 L900.00,683.99 L901.00,684.04 L902.00,684.10 L903.00,684.16 L904.00,684.21 L905.00,684.27 L906.00,684.33 L907.00,684.38 L908.00,684.44 L909.00,684.49 L910.00,684.54 L911.00,684.60 L912.00,684.65 L913.00,684.70 L914.00,684.76 L915.00,684.81 L916.00,684.86 L917.00,684.91 L918.00,684.96 L919.00,685.01 L920.00,685.06 L921.00,685.11 L922.00,685.16 L923.00,685.21 L924.00,685.26 L925.00,685.31 L926.00,685.36 L927.00,685.40 L928.00,685.45 L929.00,685.50 L930.00,685.55 L931.00,685.59 L932.00,685.64 L933.00,685.69 L934.00,685.73 L935.00,685.78 L936.00,685.82 L937.00,685.87 L938.00,685.91 L939.00,685.96 L940.00,686.00 L941.00,686.05 L942.00,686.09 L943.00,686.14 L944.00,686.18 L945.00,686.22 L946.00,686.27 L947.00,686.31 L948.00,686.35 L949.00,686.40 L950.00,686.44 L951.00,686.48 L952.00,686.52 L953.00,686.56 L954.00,686.61 L955.00,686.65 L956.00,686.69 L957.00,686.73 L958.00,686.77 L959.00,686.81 L960.00,686.85 L961.00,686.89 L962.00,686.93 L963.00,686.97 L964.00,687.01 L965.00,687.05 L966.00,687.08 L967.00,687.12 L968.00,687.16 L969.00,687.20 L970.00,687.23 L971.00,687.27 L972.00,687.31 L973.00,687.35 L974.00,687.38 L975.00,687.42 L976.00,687.45 L977.00,687.49 L978.00,687.53 L979.00,687.56 L980.00,687.60 L981.00,687.63 L982.00,687.67 L983.00,687.70 L984.00,687.74 L985.00,687.77 L986.00,687.81 L987.00,687.84 L988.00,687.88 L989.00,687.91 L990.00,687.94 L991.00,687.98 L992.00,688.01 L993.00,688.05 L994.00,688.08 L995.00,688.12 L996.00,688.15 L997.00,688.19 L998.00,688.22 L999.00,688.25 L1000.00,688.29 L1001.00,688.32 L1002.00,688.36 L1003.00,688.39 L1004.00,688.43 L1005.00,688.46 L1006.00,688.50 L1007.00,688.54 L1008.00,688.57 L1009.00,688.61 L1010.00,688.64 L1011.00,688.68 L1012.00,688.72 L1013.00,688.76 L1014.00,688.79 L1015.00,688.83 L1016.00,688.87 L1017.00,688.91 L1018.00,688.95 L1019.00,688.98 L1020.00,689.02 L1021.00,689.06 L1022.00,689.10 L1023.00,689.14 L1024.00,689.18 L1025.00,689.23 L1026.00,689.27 L1027.00,689.31 L1028.00,689.35 L1029.00,689.39 L1030.00,689.43 L1031.00,689.48 L1032.00,689.52 L1033.00,689.56 L1034.00,689.61 L1035.00,689.65 L1036.00,689.69 L1037.00,689.74 L1038.00,689.78 L1039.00,689.82 L1040.00,689.87 L1041.00,689.91 L1042.00,689.96 L1043.00,690.00 L1044.00,690.04 L1045.00,690.09 L1046.00,690.13 L1047.00,690.18 L1048.00,690.22 L1049.00,690.27 L1050.00,690.31 L1051.00,690.35 L1052.00,690.40 L1053.00,690.44 L1054.00,690.49 L1055.00,690.53 L1056.00,690.57 L1057.00,690.62 L1058.00,690.66 L1059.00,690.70 L1060.00,690.75 L1061.00,690.79 L1062.00,690.83 L1063.00,690.88 L1064.00,690.92 L1065.00,690.96 L1066.00,691.01 L1067.00,691.05 L1068.00,691.09 L1069.00,691.14 L1070.00,691.18 L1071.00,691.22 L1072.00,691.26 L1073.00,691.31 L1074.00,691.35 L1075.00,691.39 L1076.00,691.43 L1077.00,691.48 L1078.00,691.52 L1079.00,691.56 L1080.00,691.60 L1081.00,691.65 L1082.00,691.69 L1083.00,691.73 L1084.00,691.78 L1085.00,691.82 L1086.00,691.86 L1087.00,691.91 L1088.00,691.95 L1089.00,691.99 L1090.00,692.03 L1091.00,692.08 L1092.00,692.12 L1093.00,692.17 L1094.00,692.21 L1095.00,692.25 L1096.00,692.30 L1097.00,692.34 L1098.00,692.38 L1099.00,692.43 L1100.00,692.47 L1101.00,692.52 L1102.00,692.56 L1103.00,692.60 L1104.00,692.65 L1105.00,692.69 L1106.00,692.74 L1107.00,692.78 L1108.00,692.82 L1109.00,692.87 L1110.00,692.91 L1111.00,692.95 L1112.00,693.00 L1113.00,693.04 L1114.00,693.09 L1115.00,693.13 L1116.00,693.17 L1117.00,693.22 L1118.00,693.26 L1119.00,693.30 L1120.00,693.34 L1121.00,693.39 L1122.00,693.43 L1123.00,693.47 L1124.00,693.51 L1125.00,693.56 L1126.00,693.60 L1127.00,693.64 L1128.00,693.68 L1129.00,693.72 L1130.00,693.76 L1131.00,693.80 L1132.00,693.84 L1133.00,693.89 L1134.00,693.93 L1135.00,693.97 L1136.00,694.01 L1137.00,694.05 L1138.00,694.09 L1139.00,694.13 L1140.00,694.17 L1141.00,694.20 L1142.00,694.24 L1143.00,694.28 L1144.00,694.32 L1145.00,694.36 L1146.00,694.40 L1147.00,694.44 L1148.00,694.48 L1149.00,694.51 L1150.00,694.55 L1151.00,694.59 L1152.00,694.63 L1153.00,694.67 L1154.00,694.70 L1155.00,694.74 L1156.00,694.78 L1157.00,694.82 L1158.00,694.85 L1159.00,694.89 L1160.00,694.93 L1161.00,694.97 L1162.00,695.00 L1163.00,695.04 L1164.00,695.08 L1165.00,695.11 L1166.00,695.15 L1167.00,695.19 L1168.00,695.22 L1169.00,695.26 L1170.00,695.29 L1171.00,695.33 L1172.00,695.37 L1173.00,695.40 L1174.00,695.44 L1175.00,695.47 L1176.00,695.50 L1177.00,695.54 L1178.00,695.57 L1179.00,695.61 L1180.00,695.64 L1181.00,695.67 L1182.00,695.70 L1183.00,695.74 L1184.00,695.77 L1185.00,695.80 L1186.00,695.83 L1187.00,695.86 L1188.00,695.89 L1189.00,695.91 L1190.00,695.94 L1191.00,695.97 L1192.00,695.99 L1193.00,696.02 L1194.00,696.05 L1195.00,696.07 L1196.00,696.09 L1197.00,696.12 L1198.00,696.14 L1199.00,696.16 L1200.00,696.18 L1201.00,696.20 L1202.00,696.21 L1203.00,696.23 L1204.00,696.25 L1205.00,696.26 L1206.00,696.28 L1207.00,696.29 L1208.00,696.31 L1209.00,696.32 L1210.00,696.33 L1211.00,696.34 L1212.00,696.35 L1213.00,696.36 L1214.00,696.37 L1215.00,696.38 L1216.00,696.39 L1217.00,696.40 L1218.00,696.41 L1219.00,696.41 L1220.00,696.42 L1221.00,696.43 L1222.00,696.43 L1223.00,696.44 L1224.00,696.44 L1225.00,696.45 L1226.00,696.45 L1227.00,696.46 L1228.00,696.46 L1229.00,696.46 L1230.00,696.47 L1231.00,696.47 L1232.00,696.47 L1233.00,696.48 L1234.00,696.48 L1235.00,696.48 L1236.00,696.48 L1237.00,696.49 L1238.00,696.49 L1239.00,696.49 L1240.00,696.49 L1241.00,696.49 L1242.00,696.50 L1243.00,696.50 L1244.00,696.50 L1245.00,696.50 L1246.00,696.51 L1247.00,696.51 L1248.00,696.51 L1249.00,696.52 L1250.00,696.52 L1251.00,696.52 L1252.00,696.53 L1253.00,696.53 L1254.00,696.54 L1255.00,696.54 L1256.00,696.55 L1257.00,696.55 L1258.00,696.56 L1259.00,696.57 L1260.00,696.58 L1261.00,696.58 L1262.00,696.59 L1263.00,696.60 L1264.00,696.61 L1265.00,696.62 L1266.00,696.63 L1267.00,696.64 L1268.00,696.66 L1269.00,696.67 L1270.00,696.69 L1271.00,696.70 L1272.00,696.72 L1273.00,696.73 L1274.00,696.75 L1275.00,696.77 L1276.00,696.79 L1277.00,696.81 L1278.00,696.84 L1279.00,696.86 L1280.00,696.89 L1281.00,696.91 L1282.00,696.94 L1283.00,696.97 L1284.00,697.00 L1285.00,697.03 L1286.00,697.06 L1287.00,697.10 L1288.00,697.13 L1289.00,697.17 L1290.00,697.20 L1291.00,697.24 L1292.00,697.28 L1293.00,697.32 L1294.00,697.36 L1295.00,697.40 L1296.00,697.45 L1297.00,697.49 L1298.00,697.53 L1299.00,697.58 L1300.00,697.63 L1301.00,697.67 L1302.00,697.72 L1303.00,697.77 L1304.00,697.82 L1305.00,697.87 L1306.00,697.92 L1307.00,697.97 L1308.00,698.02 L1309.00,698.08 L1310.00,698.13 L1311.00,698.18 L1312.00,698.24 L1313.00,698.30 L1314.00,698.35 L1315.00,698.41 L1316.00,698.47 L1317.00,698.53 L1318.00,698.58 L1319.00,698.64 L1320.00,698.70 L1321.00,698.77 L1322.00,698.83 L1323.00,698.89 L1324.00,698.95 L1325.00,699.02 L1326.00,699.08 L1327.00,699.14 L1328.00,699.21 L1329.00,699.28 L1330.00,699.34 L1331.00,699.41 L1332.00,699.48 L1333.00,699.55 L1334.00,699.61 L1335.00,699.68 L1336.00,699.75 L1337.00,699.82 L1338.00,699.90 L1339.00,699.97 L1340.00,700.04 L1341.00,700.11 L1342.00,700.18 L1343.00,700.26 L1344.00,700.33 L1345.00,700.41 L1346.00,700.48 L1347.00,700.56 L1348.00,700.63 L1349.00,700.71 L1350.00,700.79 L1351.00,700.87 L1352.00,700.94 L1353.00,701.02 L1354.00,701.10 L1355.00,701.18 L1356.00,701.26 L1357.00,701.34 L1358.00,701.42 L1359.00,701.50 L1360.00,701.58 L1361.00,701.67 L1362.00,701.75 L1363.00,701.83 L1364.00,701.91 L1365.00,702.00 L1366.00,702.08 L1367.00,702.17 L1368.00,702.25 L1369.00,702.34 L1370.00,702.42 L1371.00,702.51 L1372.00,702.60 L1373.00,702.69 L1374.00,702.78 L1375.00,702.87 L1376.00,702.96 L1377.00,703.05 L1378.00,703.15 L1379.00,703.24 L1380.00,703.34 L1381.00,703.44 L1382.00,703.54 L1383.00,703.64 L1384.00,703.74 L1385.00,703.85 L1386.00,703.95 L1387.00,704.06 L1388.00,704.17 L1389.00,704.29 L1390.00,704.40 L1391.00,704.52 L1392.00,704.64 L1393.00,704.76 L1394.00,704.89 L1395.00,705.01 L1396.00,705.14 L1397.00,705.28 L1398.00,705.41 L1399.00,705.55 L1400.00,705.69 L1401.00,705.83 L1402.00,705.98 L1403.00,706.13 L1404.00,706.28 L1405.00,706.44 L1406.00,706.60 L1407.00,706.76 L1408.00,706.93 L1409.00,707.10 L1410.00,707.28 L1411.00,707.45 L1412.00,707.64 L1413.00,707.82 L1414.00,708.01 L1415.00,708.21 L1416.00,708.40 L1417.00,708.61 L1418.00,708.81 L1419.00,709.02 L1420.00,709.24 L1421.00,709.46 L1422.00,709.68 L1423.00,709.91 L1424.00,710.15 L1425.00,710.39 L1426.00,710.63 L1427.00,710.88 L1428.00,711.13 L1429.00,711.38 L1430.00,711.65 L1431.00,711.91 L1432.00,712.18 L1433.00,712.46 L1434.00,712.74 L1435.00,713.02 L1436.00,713.31 L1436.73,713.51 L1437.43,713.73 L1438.14,713.96 L1438.84,714.18 L1439.55,714.41 L1440.25,714.64 L1440.96,714.87 L1441.67,715.09 L1442.38,715.32 L1443.08,715.55 L1443.79,715.78 L1444.50,716.02 L1445.21,716.25 L1445.92,716.49 L1446.63,716.72 L1447.33,716.96 L1448.04,717.20 L1448.75,717.44 L1449.46,717.69 L1450.17,717.93 L1450.87,718.18 L1451.58,718.43 L1452.28,718.68 L1452.99,718.93 L1453.69,719.19 L1454.39,719.45 L1455.10,719.71 L1455.80,719.97 L1456.49,720.24 L1457.19,720.51 L1457.89,720.78 L1458.58,721.06 L1459.28,721.33 L1459.97,721.61 L1460.66,721.90 L1461.35,722.18 L1462.03,722.47 L1462.72,722.77 L1463.40,723.07 L1464.08,723.37 L1464.76,723.67 L1465.43,723.98 L1466.11,724.29 L1466.78,724.61 L1467.44,724.93 L1468.11,725.25 L1468.77,725.58 L1469.43,725.91 L1470.09,726.25 L1470.74,726.59 L1471.39,726.94 L1472.04,727.29 L1472.69,727.64 L1473.33,728.00 L1473.97,728.37 L1474.60,728.74 L1475.23,729.11 L1475.86,729.49 L1476.48,729.88 L1477.10,730.27 L1477.72,730.66 L1478.33,731.07 L1478.93,731.47 L1479.54,731.88 L1480.14,732.30 L1480.73,732.73 L1481.32,733.16 L1481.91,733.59 L1482.49,734.03 L1483.07,734.48 L1483.64,734.93 L1484.21,735.39 L1484.78,735.85 L1485.34,736.32 L1485.89,736.79 L1486.45,737.27 L1487.00,737.75 L1487.54,738.24 L1488.09,738.73 L1488.62,739.23 L1489.16,739.73 L1489.69,740.24 L1490.22,740.75 L1490.74,741.26 L1491.26,741.78 L1491.78,742.30 L1492.30,742.83 L1492.81,743.36 L1493.31,743.90 L1493.82,744.44 L1494.32,744.98 L1494.82,745.53 L1495.31,746.08 L1495.80,746.64 L1496.29,747.19 L1496.78,747.76 L1497.26,748.32 L1497.74,748.89 L1498.22,749.46 L1498.69,750.03 L1499.17,750.61 L1499.64,751.19 L1500.10,751.77 L1500.57,752.36 L1501.03,752.95 L1501.49,753.54 L1501.95,754.13 L1502.40,754.73 L1502.85,755.33 L1503.30,755.93 L1503.75,756.53 L1504.20,757.13 L1504.64,757.74 L1505.08,758.35 L1505.52,758.96 L1505.96,759.57 L1506.40,760.19 L1506.83,760.80 L1507.26,761.42 L1507.69,762.04 L1508.12,762.66 L1508.55,763.28 L1508.98,763.90 L1509.40,764.53 L1509.82,765.15 L1510.24,765.78 L1510.66,766.41 L1511.08,767.03 L1511.50,767.66 L1511.91,768.29 L1512.33,768.92 L1512.74,769.55 L1513.15,770.19 L1513.56,770.82 L1513.97,771.45 L1514.37,772.09 L1514.78,772.72 L1515.18,773.36 L1515.59,774.00 L1515.99,774.63 L1516.39,775.27 L1516.78,775.91 L1517.18,776.55 L1517.58,777.19 L1517.97,777.83 L1518.36,778.48 L1518.75,779.12 L1519.14,779.76 L1519.53,780.41 L1519.91,781.05 L1520.30,781.70 L1520.68,782.35 L1521.06,782.99 L1521.44,783.64 L1521.82,784.29 L1522.20,784.94 L1522.58,785.59 L1522.95,786.24 L1523.32,786.89 L1523.69,787.55 L1524.06,788.20 L1524.43,788.85 L1524.80,789.51 L1525.16,790.16 L1525.53,790.82 L1525.89,791.47 L1526.25,792.13 L1526.61,792.79 L1526.96,793.45 L1527.32,794.10 L1527.68,794.76 L1528.03,795.42 L1528.38,796.08 L1528.73,796.74 L1529.08,797.40 L1529.42,798.07 L1529.77,798.73 L1530.11,799.39 L1530.45,800.05 L1530.79,800.72 L1531.13,801.38 L1531.47,802.05 L1531.81,802.71 L1532.14,803.38 L1532.47,804.04 L1532.81,804.71 L1533.14,805.38 L1533.47,806.05 L1533.79,806.72 L1534.12,807.39 L1534.44,808.06 L1534.77,808.73 L1535.09,809.40 L1535.41,810.07 L1535.73,810.74 L1536.04,811.41 L1536.36,812.08 L1536.68,812.76 L1536.99,813.43 L1537.30,814.11 L1537.61,814.78 L1537.92,815.46 L1538.23,816.13 L1538.54,816.81 L1538.84,817.48 L1539.15,818.16 L1539.45,818.84 L1539.75,819.52 L1540.05,820.20 L1540.35,820.87 L1540.65,821.55 L1540.94,822.23 L1541.24,822.91 L1541.53,823.60 L1541.82,824.28 L1542.12,824.96 L1542.41,825.64 L1542.70,826.32 L1542.98,827.01 L1543.27,827.69 L1543.56,828.38 L1543.84,829.06 L1544.12,829.75 L1544.40,830.43 L1544.68,831.12 L1544.96,831.80 L1545.24,832.49 L1545.52,833.18 L1545.80,833.87 L1546.07,834.55 L1546.34,835.24 L1546.62,835.93 L1546.89,836.62 L1547.16,837.31 L1547.43,838.00 L1547.70,838.69 L1547.96,839.38 L1548.23,840.08 L1548.49,840.77 L1548.76,841.46 L1549.02,842.15 L1549.28,842.85 L1549.54,843.54 L1549.80,844.24 L1550.06,844.93 L1550.32,845.63 L1550.58,846.32 L1550.83,847.02 L1551.09,847.71 L1551.34,848.41 L1551.59,849.11 L1551.85,849.80 L1552.10,850.50 L1552.35,851.20 L1552.60,851.90 L1552.84,852.60 L1553.09,853.30 L1553.34,854.00 L1553.58,854.70 L1553.83,855.40 L1554.07,856.10 L1554.31,856.80 L1554.55,857.50 L1554.79,858.20 L1555.03,858.90 L1555.27,859.61 L1555.51,860.31 L1555.75,861.01 L1555.98,861.72 L1556.22,862.42 L1556.45,863.13 L1556.69,863.83 L1556.92,864.54 L1557.15,865.24 L1557.38,865.95 L1557.62,866.65 L1557.85,867.36 L1558.07,868.07 L1558.30,868.77 L1558.53,869.48 L1558.76,870.19 L1558.98,870.90 L1559.21,871.61 L1559.43,872.31 L1559.66,873.02 L1559.88,873.73 L1560.10,874.44 L1560.32,875.15 L1560.54,875.86 L1560.76,876.57 L1560.98,877.29 L1561.20,878.00 L1561.42,878.71 L1561.64,879.42 L1561.85,880.13 L1562.07,880.85 L1562.29,881.56 L1562.50,882.27 L1562.71,882.99 L1562.93,883.70 L1563.14,884.41 L1563.35,885.13 L1563.56,885.84 L1563.78,886.56 L1563.99,887.27 L1564.20,887.99 L1564.41,888.70 L1564.61,889.42 L1564.82,890.14 L1565.03,890.85 L1565.24,891.57 L1565.44,892.29 L1565.65,893.00 L1565.86,893.72 L1566.06,894.44 L1566.27,895.16 L1566.47,895.88 L1566.67,896.60 L1566.88,897.31 L1567.08,898.03 L1567.28,898.75 L1567.48,899.47 L1567.68,900.19 L1567.88,900.91 L1568.08,901.63 L1568.28,902.35 L1568.48,903.07 L1568.68,903.80 L1568.88,904.52 L1569.08,905.24 L1569.28,905.96 L1569.47,906.68 L1569.67,907.41 L1569.87,908.13 L1570.06,908.85 L1570.26,909.57 L1570.45,910.30 L1570.65,911.02 L1570.84,911.74 L1571.04,912.47 L1571.23,913.19 L1571.43,913.92 L1571.62,914.64 L1571.81,915.37 L1572.01,916.09 L1572.20,916.81 L1572.39,917.54 L1572.58,918.27 L1572.77,918.99 L1572.97,919.72 L1573.16,920.44 L1573.35,921.17 L1573.54,921.90 L1573.73,922.62 L1573.92,923.35 L1574.11,924.08 L1574.30,924.80 L1574.49,925.53 L1574.68,926.26 L1574.87,926.99 L1575.06,927.71 L1575.25,928.44 L1575.43,929.17 L1575.62,929.90 L1575.81,930.63 L1576.00,931.35 L1576.19,932.08 L1576.38,932.81 L1576.56,933.54 L1576.75,934.27 L1576.94,935.00 L1577.13,935.73 L1577.31,936.46 L1577.50,937.19 L1577.69,937.92 L1577.88,938.65 L1578.06,939.38 L1578.25,940.11 L1578.44,940.84 L1578.62,941.57 L1578.81,942.30 L1579.00,943.03 L1579.18,943.76 L1579.37,944.49 L1579.56,945.22 L1579.75,945.96 L1579.93,946.69 L1580.12,947.42 L1580.31,948.15 L1580.49,948.88 L1580.68,949.61 L1580.87,950.34 L1581.05,951.08 L1581.24,951.81 L1581.43,952.54 L1581.63,953.27 L1581.82,954.00 L1582.01,954.72 L1582.21,955.45 L1582.41,956.17 L1582.61,956.90 L1582.82,957.62 L1583.03,958.34 L1583.24,959.05 L1583.46,959.77 L1583.68,960.48 L1583.90,961.19 L1584.13,961.90 L1584.37,962.60 L1584.61,963.30 L1584.85,964.00 L1585.11,964.69 L1585.36,965.38 L1585.63,966.07 L1585.90,966.75 L1586.17,967.42 L1586.46,968.10 L1586.75,968.77 L1587.05,969.43 L1587.35,970.09 L1587.67,970.74 L1587.99,971.39 L1588.33,972.03 L1588.67,972.67 L1589.02,973.30 L1589.38,973.93 L1589.75,974.54 L1590.13,975.16 L1590.52,975.76 L1590.92,976.36 L1591.33,976.96 L1591.75,977.54 L1592.19,978.12 L1592.64,978.69 L1593.09,979.25 L1593.56,979.81 L1594.05,980.36 L1594.54,980.90 L1595.05,981.42 L1595.57,981.91 L1596.09,982.34 L1596.62,982.70 L1597.15,982.97 L1597.68,983.12 L1598.21,983.14 L1598.74,983.04 L1599.25,982.81 L1599.76,982.48 L1600.25,982.05 L1600.73,981.55 L1601.19,980.98 L1601.63,980.35 L1602.04,979.68 L1602.43,978.99 L1602.78,978.27 L1603.11,977.55 L1603.41,976.82 L1603.68,976.09 L1603.92,975.36 L1604.14,974.62 L1604.33,973.87 L1604.50,973.12 L1604.66,972.37 L1604.79,971.62 L1604.91,970.86 L1605.01,970.10 L1605.10,969.34 L1605.18,968.58 L1605.25,967.81 L1605.30,967.05 L1605.36,966.28 L1605.40,965.52 L1605.45,964.75 L1605.49,963.98 L1605.53,963.22 L1605.57,962.45 L1605.61,961.69 L1605.66,960.92 L1605.70,960.16 L1605.75,959.40 L1605.80,958.63 L1605.84,957.87 L1605.89,957.11 L1605.94,956.35 L1605.99,955.59 L1606.04,954.83 L1606.09,954.08 L1606.15,953.32 L1606.20,952.56 L1606.25,951.80 L1606.31,951.05 L1606.36,950.29 L1606.42,949.54 L1606.47,948.78 L1606.53,948.03 L1606.59,947.28 L1606.65,946.52 L1606.71,945.77 L1606.77,945.02 L1606.83,944.27 L1606.89,943.52 L1606.95,942.77 L1607.01,942.02 L1607.07,941.27 L1607.13,940.52 L1607.20,939.77 L1607.26,939.03 L1607.33,938.28 L1607.39,937.53 L1607.45,936.78 L1607.52,936.04 L1607.59,935.29 L1607.65,934.55 L1607.72,933.80 L1607.78,933.06 L1607.85,932.31 L1607.92,931.57 L1607.99,930.82 L1608.05,930.08 L1608.12,929.34 L1608.19,928.60 L1608.26,927.85 L1608.32,927.11 L1608.39,926.37 L1608.46,925.63 L1608.53,924.89 L1608.60,924.14 L1608.67,923.40 L1608.74,922.66 L1608.81,921.92 L1608.87,921.18 L1608.94,920.44 L1609.01,919.70 L1609.08,918.96 L1609.15,918.22 L1609.22,917.48 L1609.29,916.74 L1609.36,916.00 L1609.43,915.27 L1609.49,914.53 L1609.56,913.79 L1609.63,913.05 L1609.70,912.31 L1609.77,911.57 L1609.83,910.83 L1609.90,910.10 L1609.97,909.36 L1610.03,908.62 L1610.10,907.88 L1610.17,907.14 L1610.23,906.40 L1610.30,905.67 L1610.36,904.93 L1610.43,904.19 L1610.49,903.45 L1610.56,902.71 L1610.62,901.98 L1610.68,901.24 L1610.75,900.50 L1610.81,899.76 L1610.87,899.02 L1610.93,898.28 L1610.99,897.55 L1611.05,896.81 L1611.11,896.07 L1611.17,895.33 L1611.23,894.59 L1611.29,893.85 L1611.34,893.11 L1611.40,892.37 L1611.46,891.63 L1611.51,890.89 L1611.57,890.15 L1611.62,889.41 L1611.67,888.67 L1611.73,887.93 L1611.78,887.19 L1611.83,886.45 L1611.88,885.71 L1611.93,884.97 L1611.98,884.23 L1612.03,883.49 L1612.07,882.74 L1612.12,882.00 L1612.17,881.26 L1612.21,880.52 L1612.26,879.78 L1612.30,879.03 L1612.35,878.29 L1612.39,877.55 L1612.43,876.80 L1612.48,876.06 L1612.52,875.32 L1612.56,874.57 L1612.60,873.83 L1612.64,873.09 L1612.68,872.34 L1612.72,871.60 L1612.76,870.86 L1612.80,870.11 L1612.84,869.37 L1612.87,868.62 L1612.91,867.88 L1612.95,867.13 L1612.98,866.39 L1613.02,865.64 L1613.05,864.90 L1613.09,864.15 L1613.12,863.41 L1613.16,862.66 L1613.19,861.92 L1613.22,861.17 L1613.26,860.43 L1613.29,859.68 L1613.32,858.94 L1613.35,858.19 L1613.39,857.44 L1613.42,856.70 L1613.45,855.95 L1613.48,855.20 L1613.51,854.46 L1613.54,853.71 L1613.57,852.97 L1613.60,852.22 L1613.63,851.47 L1613.66,850.73 L1613.69,849.98 L1613.71,849.23 L1613.74,848.49 L1613.77,847.74 L1613.80,846.99 L1613.83,846.25 L1613.86,845.50 L1613.88,844.75 L1613.91,844.00 L1613.94,843.26 L1613.96,842.51 L1613.99,841.76 L1614.02,841.02 L1614.04,840.27 L1614.07,839.52 L1614.10,838.77 L1614.12,838.03 L1614.15,837.28 L1614.18,836.53 L1614.20,835.78 L1614.23,835.04 L1614.26,834.29 L1614.28,833.54 L1614.31,832.79 L1614.33,832.05 L1614.36,831.30 L1614.39,830.55 L1614.41,829.80 L1614.44,829.06 L1614.46,828.31 L1614.49,827.56 L1614.52,826.82 L1614.54,826.07 L1614.57,825.32 L1614.59,824.57 L1614.62,823.83 L1614.65,823.08 L1614.67,822.33 L1614.70,821.58 L1614.73,820.84 L1614.76,820.09 L1614.78,819.34 L1614.81,818.60 L1614.84,817.85 L1614.87,817.10 L1614.89,816.36 L1614.92,815.61 L1614.95,814.86 L1614.98,814.11 L1615.01,813.37 L1615.04,812.62 L1615.06,811.87 L1615.09,811.13 L1615.12,810.38 L1615.15,809.64 L1615.18,808.89 L1615.21,808.14 L1615.24,807.40 L1615.28,806.65 L1615.31,805.91 L1615.34,805.16 L1615.37,804.41 L1615.40,803.67 L1615.44,802.92 L1615.47,802.18 L1615.50,801.43 L1615.54,800.69 L1615.57,799.94 L1615.60,799.20 L1615.64,798.45 L1615.67,797.71 L1615.71,796.96 L1615.75,796.22 L1615.78,795.47 L1615.82,794.73 L1615.86,793.98 L1615.89,793.24 L1615.93,792.50 L1615.97,791.75 L1616.01,791.01 L1616.05,790.26 L1616.09,789.52 L1616.13,788.78 L1616.17,788.03 L1616.22,787.29 L1616.26,786.55 L1616.30,785.81 L1616.34,785.06 L1616.39,784.32 L1616.43,783.58 L1616.48,782.84 L1616.52,782.09 L1616.57,781.35 L1616.62,780.61 L1616.67,779.87 L1616.71,779.13 L1616.76,778.38 L1616.81,777.64 L1616.86,776.90 L1616.91,776.16 L1616.97,775.42 L1617.02,774.68 L1617.07,773.94 L1617.12,773.20 L1617.18,772.45 L1617.23,771.71 L1617.29,770.97 L1617.35,770.23 L1617.40,769.49 L1617.46,768.75 L1617.52,768.01 L1617.58,767.27 L1617.64,766.53 L1617.70,765.79 L1617.76,765.05 L1617.82,764.31 L1617.89,763.56 L1617.95,762.82 L1618.02,762.08 L1618.08,761.34 L1618.15,760.60 L1618.22,759.86 L1618.28,759.12 L1618.35,758.38 L1618.42,757.64 L1618.49,756.89 L1618.56,756.15 L1618.64,755.41 L1618.71,754.67 L1618.78,753.93 L1618.86,753.19 L1618.93,752.45 L1619.01,751.70 L1619.09,750.96 L1619.17,750.22 L1619.25,749.48 L1619.33,748.74 L1619.41,747.99 L1619.49,747.25 L1619.58,746.51 L1619.66,745.76 L1619.75,745.02 L1619.83,744.28 L1619.92,743.54 L1620.01,742.79 L1620.10,742.05 L1620.19,741.30 L1620.28,740.56 L1620.37,739.82 L1620.46,739.07 L1620.56,738.33 L1620.65,737.58 L1620.75,736.84 L1620.85,736.09 L1620.95,735.35 L1621.05,734.60 L1621.15,733.86 L1621.27,733.11 L1621.39,732.38 L1621.53,731.64 L1621.68,730.92 L1621.86,730.20 L1622.06,729.49 L1622.28,728.79 L1622.54,728.11 L1622.83,727.43 L1623.15,726.77 L1623.51,726.13 L1623.92,725.50 L1624.37,724.90 L1624.86,724.31 L1625.41,723.74 L1626.02,723.19 L1643,723.2" stroke="#0a0a0a"/>
</g>
<rect x="172.4" y="30.7" width="1471.6" height="1058.2" fill="none" stroke="#141414" stroke-width="4.7"/>
<line x1="172.4" y1="1089" x2="172.4" y2="1103.5" stroke="#141414" stroke-width="4.0"/><line x1="485.0" y1="1089" x2="485.0" y2="1103.5" stroke="#141414" stroke-width="4.0"/><line x1="797.7" y1="1089" x2="797.7" y2="1103.5" stroke="#141414" stroke-width="4.0"/><line x1="1110.4" y1="1089" x2="1110.4" y2="1103.5" stroke="#141414" stroke-width="4.0"/><line x1="1423.0" y1="1089" x2="1423.0" y2="1103.5" stroke="#141414" stroke-width="4.0"/>
<text transform="translate(156.23,1181.2) scale(0.9680,0.9854)" font-family="'Liberation Sans', Arial, sans-serif" font-size="60" fill="#000">0</text>
<text transform="translate(452.47,1181.2) scale(0.9680,0.9854)" font-family="'Liberation Sans', Arial, sans-serif" font-size="60" fill="#000">50</text>
<text transform="translate(749.15,1181.2) scale(0.9680,0.9854)" font-family="'Liberation Sans', Arial, sans-serif" font-size="60" fill="#000">100</text>
<text transform="translate(1061.85,1181.2) scale(0.9680,0.9854)" font-family="'Liberation Sans', Arial, sans-serif" font-size="60" fill="#000">150</text>
<text transform="translate(1374.27,1181.2) scale(0.9680,0.9854)" font-family="'Liberation Sans', Arial, sans-serif" font-size="60" fill="#000">200</text>
<text transform="translate(611.13,378.20) scale(0.9719,1.0696)" font-family="'Liberation Sans', Arial, sans-serif" font-size="34" font-weight="bold" fill="#000">76.2</text>
<text transform="translate(573.73,544.60) scale(0.9703,1.0522)" font-family="'Liberation Sans', Arial, sans-serif" font-size="34" font-weight="bold" fill="#000">72.5</text>
<text transform="translate(524.79,792.10) scale(0.9109,1.0348)" font-family="'Liberation Sans', Arial, sans-serif" font-size="34" font-weight="bold" fill="#000">62.1</text>
<text transform="translate(1436.94,195.70) scale(0.9598,1.0696)" font-family="'Liberation Sans', Arial, sans-serif" font-size="34" font-weight="bold" fill="#000">212.42</text>
<text transform="translate(1506.25,636.70) scale(0.9461,0.9435)" font-family="'Liberation Sans', Arial, sans-serif" font-size="34" font-weight="bold" fill="#000">224.58</text>
<text transform="translate(1507.34,1017.80) scale(0.9627,1.0348)" font-family="'Liberation Sans', Arial, sans-serif" font-size="34" font-weight="bold" fill="#000">227.95</text>
<line x1="213.5" y1="912" x2="311" y2="912" stroke="#0a0a0a" stroke-width="4.9"/><line x1="213.5" y1="963.8" x2="311" y2="963.8" stroke="#ff0000" stroke-width="4.9"/><line x1="213.5" y1="1015.8" x2="311" y2="1015.8" stroke="#0000ff" stroke-width="4.9"/>
<text transform="translate(329.67,925.60) scale(1.0076,1.0621)" font-family="'Liberation Sans', Arial, sans-serif" font-size="43" font-weight="normal" fill="#000">PVA</text>
<text transform="translate(329.82,976.84) scale(0.9700,1.0175)" font-family="'Liberation Sans', Arial, sans-serif" font-size="43" font-weight="normal" fill="#000">PVA/SG<tspan font-size="34" dy="-3.4">&#x25AA;</tspan><tspan dy="3.4">50/50 hydrogel</tspan></text>
<text transform="translate(331.08,1029.30) scale(1.0123,1.1379)" font-family="'Liberation Sans', Arial, sans-serif" font-size="43" font-weight="normal" fill="#000">SG</text>
<text transform="translate(643.69,1315.18) scale(1.0052,1.0230)" font-family="'Liberation Sans', Arial, sans-serif" font-size="67" font-weight="normal" fill="#000">Temperature (<tspan dy="-25">o</tspan><tspan dy="25">C)</tspan></text>
<text transform="translate(85.79,777.95) rotate(-90) scale(0.9917,1.0081)" font-family="'Liberation Sans', Arial, sans-serif" font-size="67" fill="#000">Heat flow(W/g)</text></svg>
</body></html>
